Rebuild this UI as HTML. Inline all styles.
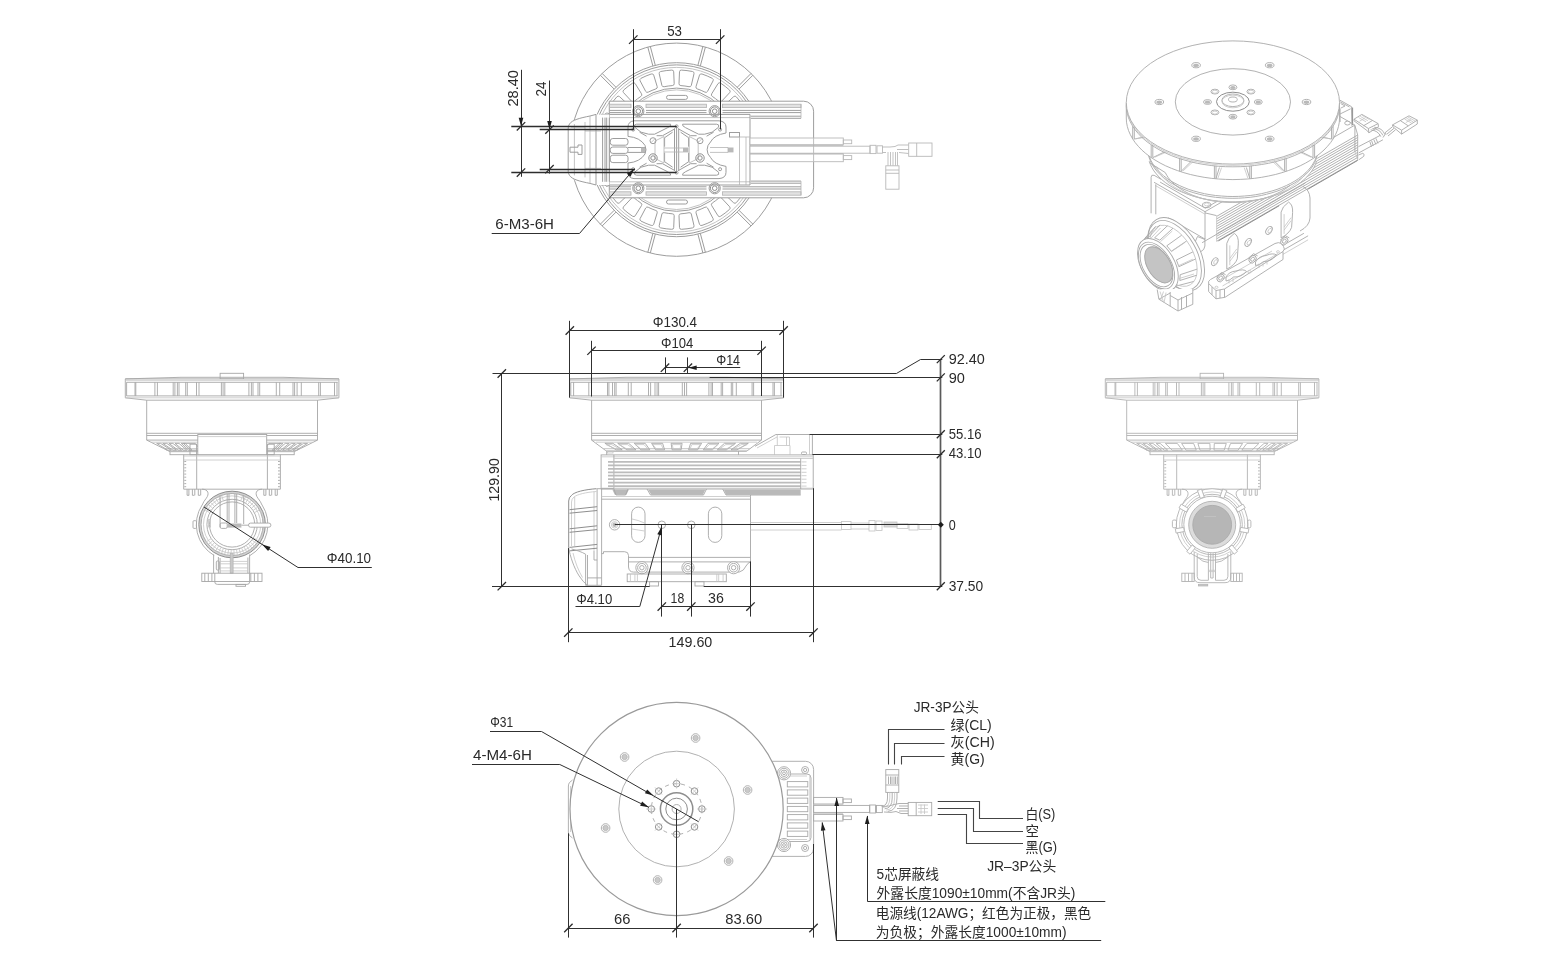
<!DOCTYPE html>
<html lang="zh"><head><meta charset="utf-8"><title>Dimensions</title>
<style>
html,body{margin:0;padding:0;background:#fff}
svg{display:block;will-change:transform;opacity:.999}
.g{fill:none;stroke:#b2b2b2;stroke-width:.9}
.gl{fill:none;stroke:#c4c4c4;stroke-width:.8}
.gd{fill:none;stroke:#8e8e8e;stroke-width:1}
.gw{fill:#fff;stroke:#b2b2b2;stroke-width:.9}
.gf{fill:#c9c9c9;stroke:#b2b2b2;stroke-width:.7}
.gff{fill:#b9b9b9;stroke:none}
.gh{fill:#e2e2e2;stroke:#b2b2b2;stroke-width:.8}
.w{fill:#fff;stroke:none}
#topview .g,#topview .gw{stroke:#9d9d9d;stroke-width:1}
#topview .gl{stroke:#b4b4b4}
#iso .g,#iso .gw{stroke:#a9a9a9}
#bottomview .g,#bottomview .gw{stroke:#a8a8a8}
#leftview .g,#leftview .gw,#frontview .g,#frontview .gw{stroke:#a6a6a6}
#topview .cab .g,#topview .cab .gw{stroke:#b8b8b8;stroke-width:.9}
.k{fill:none;stroke:#303030;stroke-width:1}
.k2{fill:none;stroke:#2d2d2d;stroke-width:1.4}
.kv{fill:none;stroke:#5a5a5a;stroke-width:1.7}
.kd{fill:none;stroke:#444;stroke-width:1.1}
.kt{fill:none;stroke:#2a2a2a;stroke-width:1.3}
.kf{fill:#1e1e1e;stroke:none}
.t{fill:#2a2a2a;font-family:"Liberation Sans","Noto Sans CJK SC",sans-serif}
</style></head><body>
<svg width="1563" height="974" viewBox="0 0 1563 974">
<rect width="1563" height="974" fill="#fff"/>
<g id="topview">
<circle class="g" cx="676.6" cy="149.7" r="106.6"/>
<circle class="g" cx="676.6" cy="149.7" r="87.0"/>
<circle class="g" cx="676.6" cy="149.7" r="84.8"/>
<circle class="gl" cx="676.6" cy="149.7" r="82.3"/>
<circle class="g" cx="676.6" cy="149.7" r="61.6"/>
<circle class="gl" cx="676.6" cy="149.7" r="59.8"/>
<path class="g" d="M697.9 65.3L702.9 46.4"/>
<path class="g" d="M700.3 66.0L705.4 47.1"/>
<path class="g" d="M737.2 87.3L751.1 73.4"/>
<path class="g" d="M739.0 89.1L752.9 75.2"/>
<path class="g" d="M760.3 126.0L779.2 120.9"/>
<path class="g" d="M761.0 128.4L779.9 123.4"/>
<path class="g" d="M761.0 171.0L779.9 176.0"/>
<path class="g" d="M760.3 173.4L779.2 178.5"/>
<path class="g" d="M739.0 210.3L752.9 224.2"/>
<path class="g" d="M737.2 212.1L751.1 226.0"/>
<path class="g" d="M700.3 233.4L705.4 252.3"/>
<path class="g" d="M697.9 234.1L702.9 253.0"/>
<path class="g" d="M655.3 234.1L650.3 253.0"/>
<path class="g" d="M652.9 233.4L647.8 252.3"/>
<path class="g" d="M616.0 212.1L602.1 226.0"/>
<path class="g" d="M614.2 210.3L600.3 224.2"/>
<path class="g" d="M592.9 173.4L574.0 178.5"/>
<path class="g" d="M592.2 171.0L573.3 176.0"/>
<path class="g" d="M592.2 128.4L573.3 123.4"/>
<path class="g" d="M592.9 126.0L574.0 120.9"/>
<path class="g" d="M614.2 89.1L600.3 75.2"/>
<path class="g" d="M616.0 87.3L602.1 73.4"/>
<path class="g" d="M652.9 66.0L647.8 47.1"/>
<path class="g" d="M655.3 65.3L650.3 46.4"/>
<path class="g" d="M681.5 70.1A79.8 79.8 0 0 1 692.5 71.5Q694.4 71.9 694.0 73.7L691.3 85.4Q690.9 87.1 689.0 86.7A64.2 64.2 0 0 0 680.9 85.6Q679.0 85.5 679.0 83.7L679.5 71.8Q679.5 70.0 681.5 70.1Z"/>
<path class="g" d="M702.0 74.0A79.8 79.8 0 0 1 712.2 78.3Q713.9 79.2 713.1 80.8L707.5 91.4Q706.6 93.0 704.9 92.1A64.2 64.2 0 0 0 697.3 88.9Q695.5 88.3 696.0 86.6L699.5 75.1Q700.1 73.4 702.0 74.0Z"/>
<path class="g" d="M720.7 83.2A79.8 79.8 0 0 1 729.4 89.9Q730.9 91.2 729.7 92.6L721.5 101.4Q720.3 102.7 718.9 101.4A64.2 64.2 0 0 0 712.3 96.4Q710.7 95.3 711.7 93.8L718.0 83.6Q719.0 82.1 720.7 83.2Z"/>
<path class="g" d="M736.4 96.9A79.8 79.8 0 0 1 743.1 105.6Q744.2 107.3 742.7 108.3L732.5 114.6Q731.0 115.6 729.9 114.0A64.2 64.2 0 0 0 724.9 107.4Q723.6 106.0 724.9 104.8L733.7 96.6Q735.1 95.4 736.4 96.9Z"/>
<path class="g" d="M748.0 114.1A79.8 79.8 0 0 1 752.3 124.3Q752.9 126.2 751.2 126.8L739.7 130.3Q738.0 130.8 737.4 129.0A64.2 64.2 0 0 0 734.2 121.4Q733.3 119.7 734.9 118.8L745.5 113.2Q747.1 112.4 748.0 114.1Z"/>
<path class="g" d="M754.8 133.8A79.8 79.8 0 0 1 756.2 144.8Q756.3 146.8 754.5 146.8L742.6 147.3Q740.8 147.3 740.7 145.4A64.2 64.2 0 0 0 739.6 137.3Q739.2 135.4 740.9 135.0L752.6 132.3Q754.4 131.9 754.8 133.8Z"/>
<path class="g" d="M756.2 154.6A79.8 79.8 0 0 1 754.8 165.6Q754.4 167.5 752.6 167.1L740.9 164.4Q739.2 164.0 739.6 162.1A64.2 64.2 0 0 0 740.7 154.0Q740.8 152.1 742.6 152.1L754.5 152.6Q756.3 152.6 756.2 154.6Z"/>
<path class="g" d="M752.3 175.1A79.8 79.8 0 0 1 748.0 185.3Q747.1 187.0 745.5 186.2L734.9 180.6Q733.3 179.7 734.2 178.0A64.2 64.2 0 0 0 737.4 170.4Q738.0 168.6 739.7 169.1L751.2 172.6Q752.9 173.2 752.3 175.1Z"/>
<path class="g" d="M743.1 193.8A79.8 79.8 0 0 1 736.4 202.5Q735.1 204.0 733.7 202.8L724.9 194.6Q723.6 193.4 724.9 192.0A64.2 64.2 0 0 0 729.9 185.4Q731.0 183.8 732.5 184.8L742.7 191.1Q744.2 192.1 743.1 193.8Z"/>
<path class="g" d="M729.4 209.5A79.8 79.8 0 0 1 720.7 216.2Q719.0 217.3 718.0 215.8L711.7 205.6Q710.7 204.1 712.3 203.0A64.2 64.2 0 0 0 718.9 198.0Q720.3 196.7 721.5 198.0L729.7 206.8Q730.9 208.2 729.4 209.5Z"/>
<path class="g" d="M712.2 221.1A79.8 79.8 0 0 1 702.0 225.4Q700.1 226.0 699.5 224.3L696.0 212.8Q695.5 211.1 697.3 210.5A64.2 64.2 0 0 0 704.9 207.3Q706.6 206.4 707.5 208.0L713.1 218.6Q713.9 220.2 712.2 221.1Z"/>
<path class="g" d="M692.5 227.9A79.8 79.8 0 0 1 681.5 229.3Q679.5 229.4 679.5 227.6L679.0 215.7Q679.0 213.9 680.9 213.8A64.2 64.2 0 0 0 689.0 212.7Q690.9 212.3 691.3 214.0L694.0 225.7Q694.4 227.5 692.5 227.9Z"/>
<path class="g" d="M671.7 229.3A79.8 79.8 0 0 1 660.7 227.9Q658.8 227.5 659.2 225.7L661.9 214.0Q662.3 212.3 664.2 212.7A64.2 64.2 0 0 0 672.3 213.8Q674.2 213.9 674.2 215.7L673.7 227.6Q673.7 229.4 671.7 229.3Z"/>
<path class="g" d="M651.2 225.4A79.8 79.8 0 0 1 641.0 221.1Q639.3 220.2 640.1 218.6L645.7 208.0Q646.6 206.4 648.3 207.3A64.2 64.2 0 0 0 655.9 210.5Q657.7 211.1 657.2 212.8L653.7 224.3Q653.1 226.0 651.2 225.4Z"/>
<path class="g" d="M632.5 216.2A79.8 79.8 0 0 1 623.8 209.5Q622.3 208.2 623.5 206.8L631.7 198.0Q632.9 196.7 634.3 198.0A64.2 64.2 0 0 0 640.9 203.0Q642.5 204.1 641.5 205.6L635.2 215.8Q634.2 217.3 632.5 216.2Z"/>
<path class="g" d="M616.8 202.5A79.8 79.8 0 0 1 610.1 193.8Q609.0 192.1 610.5 191.1L620.7 184.8Q622.2 183.8 623.3 185.4A64.2 64.2 0 0 0 628.3 192.0Q629.6 193.4 628.3 194.6L619.5 202.8Q618.1 204.0 616.8 202.5Z"/>
<path class="g" d="M605.2 185.3A79.8 79.8 0 0 1 600.9 175.1Q600.3 173.2 602.0 172.6L613.5 169.1Q615.2 168.6 615.8 170.4A64.2 64.2 0 0 0 619.0 178.0Q619.9 179.7 618.3 180.6L607.7 186.2Q606.1 187.0 605.2 185.3Z"/>
<path class="g" d="M598.4 165.6A79.8 79.8 0 0 1 597.0 154.6Q596.9 152.6 598.7 152.6L610.6 152.1Q612.4 152.1 612.5 154.0A64.2 64.2 0 0 0 613.6 162.1Q614.0 164.0 612.3 164.4L600.6 167.1Q598.8 167.5 598.4 165.6Z"/>
<path class="g" d="M597.0 144.8A79.8 79.8 0 0 1 598.4 133.8Q598.8 131.9 600.6 132.3L612.3 135.0Q614.0 135.4 613.6 137.3A64.2 64.2 0 0 0 612.5 145.4Q612.4 147.3 610.6 147.3L598.7 146.8Q596.9 146.8 597.0 144.8Z"/>
<path class="g" d="M600.9 124.3A79.8 79.8 0 0 1 605.2 114.1Q606.1 112.4 607.7 113.2L618.3 118.8Q619.9 119.7 619.0 121.4A64.2 64.2 0 0 0 615.8 129.0Q615.2 130.8 613.5 130.3L602.0 126.8Q600.3 126.2 600.9 124.3Z"/>
<path class="g" d="M610.1 105.6A79.8 79.8 0 0 1 616.8 96.9Q618.1 95.4 619.5 96.6L628.3 104.8Q629.6 106.0 628.3 107.4A64.2 64.2 0 0 0 623.3 114.0Q622.2 115.6 620.7 114.6L610.5 108.3Q609.0 107.3 610.1 105.6Z"/>
<path class="g" d="M623.8 89.9A79.8 79.8 0 0 1 632.5 83.2Q634.2 82.1 635.2 83.6L641.5 93.8Q642.5 95.3 640.9 96.4A64.2 64.2 0 0 0 634.3 101.4Q632.9 102.7 631.7 101.4L623.5 92.6Q622.3 91.2 623.8 89.9Z"/>
<path class="g" d="M641.0 78.3A79.8 79.8 0 0 1 651.2 74.0Q653.1 73.4 653.7 75.1L657.2 86.6Q657.7 88.3 655.9 88.9A64.2 64.2 0 0 0 648.3 92.1Q646.6 93.0 645.7 91.4L640.1 80.8Q639.3 79.2 641.0 78.3Z"/>
<path class="g" d="M660.7 71.5A79.8 79.8 0 0 1 671.7 70.1Q673.7 70.0 673.7 71.8L674.2 83.7Q674.2 85.5 672.3 85.6A64.2 64.2 0 0 0 664.2 86.7Q662.3 87.1 661.9 85.4L659.2 73.7Q658.8 71.9 660.7 71.5Z"/>
<rect class="g" x="666.5" y="95.4" width="21.0" height="4.0" rx="2"/>
<rect class="g" x="666.5" y="200.0" width="21.0" height="4.0" rx="2"/>
<path class="gw" d="M609.3 101.2H803.6A10 10 0 0 1 813.6 111.2V187.8A10 10 0 0 1 803.6 197.8H609.3Z"/>
<rect class="gh" x="609.6" y="104.2" width="21.4" height="3.4"/>
<rect class="gh" x="646.0" y="104.2" width="60.5" height="3.4"/>
<rect class="gh" x="722.5" y="104.2" width="78.5" height="3.4"/>
<path class="g" d="M609.6 110.4L631.0 110.4"/>
<path class="g" d="M609.6 112.6L631.0 112.6"/>
<path class="g" d="M646.0 110.4L706.5 110.4"/>
<path class="g" d="M646.0 112.6L706.5 112.6"/>
<path class="g" d="M722.5 110.4L801.0 110.4"/>
<path class="g" d="M722.5 112.6L801.0 112.6"/>
<path class="g" d="M750.8 116.2L801.0 116.2"/>
<path class="g" d="M750.8 118.3L801.0 118.3"/>
<path class="gl" d="M801.0 104.2L801.0 118.3"/>
<circle class="gw" cx="638.3" cy="111.2" r="5.6"/>
<circle class="gd" cx="638.3" cy="111.2" r="4.3"/>
<circle class="gd" cx="638.3" cy="111.2" r="2.3"/>
<circle class="gw" cx="714.7" cy="111.2" r="5.6"/>
<circle class="gd" cx="714.7" cy="111.2" r="4.3"/>
<circle class="gd" cx="714.7" cy="111.2" r="2.3"/>
<path class="g" d="M601.0 114.4L750.0 114.4"/>
<path class="gl" d="M601.0 117.6L750.0 117.6"/>
<rect class="gh" x="609.6" y="191.8" width="21.4" height="3.4"/>
<rect class="gh" x="646.0" y="191.8" width="60.5" height="3.4"/>
<rect class="gh" x="722.5" y="191.8" width="78.5" height="3.4"/>
<path class="g" d="M609.6 189.0L631.0 189.0"/>
<path class="g" d="M609.6 186.8L631.0 186.8"/>
<path class="g" d="M646.0 189.0L706.5 189.0"/>
<path class="g" d="M646.0 186.8L706.5 186.8"/>
<path class="g" d="M722.5 189.0L801.0 189.0"/>
<path class="g" d="M722.5 186.8L801.0 186.8"/>
<path class="g" d="M750.8 183.2L801.0 183.2"/>
<path class="g" d="M750.8 181.1L801.0 181.1"/>
<path class="gl" d="M801.0 195.2L801.0 181.1"/>
<circle class="gw" cx="638.3" cy="188.2" r="5.6"/>
<circle class="gd" cx="638.3" cy="188.2" r="4.3"/>
<circle class="gd" cx="638.3" cy="188.2" r="2.3"/>
<circle class="gw" cx="714.7" cy="188.2" r="5.6"/>
<circle class="gd" cx="714.7" cy="188.2" r="4.3"/>
<circle class="gd" cx="714.7" cy="188.2" r="2.3"/>
<path class="g" d="M601.0 185.0L750.0 185.0"/>
<path class="gl" d="M601.0 181.8L750.0 181.8"/>
<path class="g" d="M750.0 114.4L750.0 185.0"/>
<path class="g" d="M601.0 114.4L601.0 185.0"/>
<path class="w" d="M609.3 114.4H596L590 116C580 118 572 120 569.5 124Q568.2 126 568.2 128V171.4Q568.2 173.4 569.5 175.4C572 179.4 580 181.4 590 183.4L596 185H609.3Z"/>
<path class="gw" d="M596 114.4V185M596 114.4L590 116C580 118 572 120 569.5 124Q568.2 126 568.2 128V171.4Q568.2 173.4 569.5 175.4C572 179.4 580 181.4 590 183.4L596 185"/>
<path class="gl" d="M574.4 124V175.4M585 122V177.4M590 116V183.4"/>
<path class="gl" d="M571 127H585M571 172.4H585M585 131H601M585 168.4H601"/>
<path class="g" d="M570 147.2H578V145H582V154.4H578V152.2H570Z"/>
<path class="g" d="M602.6 117.6V181.8M605 117.6V181.8M606.7 117.6V181.8M609.3 117.6V181.8"/>
<rect class="g" x="610.3" y="138.5" width="17.7" height="6.7" rx="2.5"/>
<rect class="g" x="610.3" y="147.0" width="17.7" height="6.4" rx="2.5"/>
<rect class="g" x="610.3" y="155.2" width="17.7" height="7.4" rx="2.5"/>
<path class="g" d="M628 147.5H645V152.4H628"/>
<rect class="gff" x="641.0" y="147.5" width="4.5" height="4.9"/>
<path class="g" d="M634 120.8H719Q726 121.5 726 127V133Q714 135 710.5 142A10.5 10.5 0 0 0 710.5 157.4Q714 164.4 726 166.4V172.4Q726 178 719 178.6H634Q628 178 628 172.4V163Q640 162 645 154A10.3 10.3 0 0 0 645 145.4Q640 137.4 628 136.4V127Q628 121.5 634 120.8Z"/>
<path class="g" d="M676.6 126.3V172.6M674.5 128.5V170.8M678.7 128.5V170.8"/>
<path class="g" d="M675.1 128.7L662.6 135.7L656.6 135.7"/>
<path class="g" d="M672.6 132.2L664.6 137.7L664.6 146.7"/>
<path class="g" d="M646.6 136.2L639.6 132.2"/>
<path class="g" d="M670.6 124.2H636.6Q633.6 124.2 634.6 127.2Q640.6 133.7 648.6 134.2H654.6L667.6 127.7Q671.6 125.7 670.6 124.2Z"/>
<path class="g" d="M675.1 170.7L662.6 163.7L656.6 163.7"/>
<path class="g" d="M672.6 167.2L664.6 161.7L664.6 152.7"/>
<path class="g" d="M646.6 163.2L639.6 167.2"/>
<path class="g" d="M670.6 175.2H636.6Q633.6 175.2 634.6 172.2Q640.6 165.7 648.6 165.2H654.6L667.6 171.7Q671.6 173.7 670.6 175.2Z"/>
<path class="g" d="M678.1 128.7L690.6 135.7L696.6 135.7"/>
<path class="g" d="M680.6 132.2L688.6 137.7L688.6 146.7"/>
<path class="g" d="M706.6 136.2L713.6 132.2"/>
<path class="g" d="M682.6 124.2H716.6Q719.6 124.2 718.6 127.2Q712.6 133.7 704.6 134.2H698.6L685.6 127.7Q681.6 125.7 682.6 124.2Z"/>
<path class="g" d="M678.1 170.7L690.6 163.7L696.6 163.7"/>
<path class="g" d="M680.6 167.2L688.6 161.7L688.6 152.7"/>
<path class="g" d="M706.6 163.2L713.6 167.2"/>
<path class="g" d="M682.6 175.2H716.6Q719.6 175.2 718.6 172.2Q712.6 165.7 704.6 165.2H698.6L685.6 171.7Q681.6 173.7 682.6 175.2Z"/>
<path class="gl" d="M655 141L664 136.5V163L655 158.5ZM698.2 141L689.2 136.5V163L698.2 158.5Z"/>
<circle class="gd" cx="653.0" cy="158.0" r="4.2"/>
<circle class="gd" cx="653.0" cy="158.0" r="2.2"/>
<circle class="g" cx="653.0" cy="140.7" r="3.0"/>
<path class="gl" d="M651.0 142.7L655.0 138.7"/>
<circle class="gd" cx="700.0" cy="158.0" r="4.2"/>
<circle class="gd" cx="700.0" cy="158.0" r="2.2"/>
<circle class="g" cx="700.0" cy="140.7" r="3.0"/>
<path class="gl" d="M698.0 142.7L702.0 138.7"/>
<circle class="g" cx="676.6" cy="126.3" r="1.5"/>
<circle class="g" cx="676.6" cy="172.6" r="1.5"/>
<circle class="g" cx="720.1" cy="129.6" r="1.5"/>
<circle class="g" cx="720.1" cy="169.2" r="1.5"/>
<circle class="g" cx="633.2" cy="129.6" r="1.5"/>
<circle class="g" cx="633.2" cy="169.2" r="1.5"/>
<rect class="gff" x="683.0" y="147.5" width="5.5" height="4.9"/>
<rect class="gff" x="728.0" y="147.5" width="5.5" height="4.9"/>
<path class="gl" d="M664 148H683M664 152H683M710 147.5H728V152.4H710"/>
<rect class="g" x="729.5" y="132.5" width="10.0" height="4.5"/>
<path class="gl" d="M739.5 137V185M746 137V185M739.5 137H750"/>
<g class="cab">
<rect class="gw" x="750.0" y="138.0" width="93.3" height="6.7"/>
<rect class="g" x="843.3" y="140.0" width="8.4" height="3.7"/>
<rect class="gw" x="750.0" y="153.7" width="93.3" height="8.0"/>
<rect class="g" x="843.3" y="155.6" width="8.4" height="4.0"/>
<rect class="gw" x="750.0" y="146.2" width="120.0" height="7.0"/>
<path class="gl" d="M750.0 145.4L843.3 145.4"/>
<path class="gl" d="M750.0 154.0L843.3 154.0"/>
<path class="g" d="M813.6 138.0L813.6 161.7"/>
<rect class="g" x="870.0" y="145.3" width="6.0" height="8.3"/>
<rect class="g" x="877.0" y="145.8" width="5.5" height="7.4"/>
<path class="g" d="M882.5 147H890Q896 147 898 145L908.7 145M882.5 152.5H886M899 152.5L908.7 153.5M897 149.5H908.7"/>
<rect class="gw" x="908.7" y="143.0" width="23.3" height="13.3"/>
<path class="g" d="M916.7 143.0L916.7 156.3"/>
<path class="gl" d="M888 152V165.8M890.5 152V165.8M893 152V165.8M895.5 152V165.8M897.5 152V165.8"/>
<rect class="gw" x="885.8" y="165.8" width="13.2" height="23.4"/>
<path class="g" d="M885.8 170.0L899.0 170.0"/>
<path class="g" d="M885.8 173.3L899.0 173.3"/>
</g>
</g>
<g id="iso">
<path class="g" d="M1358.4 146.7L1380.2 135.4M1358.8 152.9L1382.9 139.8M1369.8 141.5L1371.5 146.7M1371.6 140.6L1373.3 145.8M1373.7 139.3L1375.9 144.5M1375.8 138.2L1378 143.4"/>
<path class="g" d="M1358.4 155L1362.8 153.3Q1365 154 1363.7 156.4L1358.8 159.8"/>
<path class="gw" d="M1354.0 119.2L1361.9 114.4L1378.1 123.6L1368.4 128.5Z"/>
<path class="g" d="M1354 119.2V120.8L1367.6 131L1368.9 132.8L1378.5 126.7L1378.1 123.6M1368.4 128.5L1368.9 132.8M1363.5 125.8L1372.4 120.5"/>
<path class="gl" d="M1358.5 117.5L1366 121.8M1360.3 116.4L1367.8 120.7M1362 115.3L1369.5 119.6M1359.6 121.2L1364.6 118.2"/>
<path class="g" d="M1372.4 128.4Q1380 129 1382.9 135.4M1374.2 127.2Q1382.5 128 1384.8 134.4M1370.6 129.8Q1378 130.5 1380.8 136.6"/>
<path class="gw" d="M1392.5 124.9L1409.0 115.8L1417.3 120.1L1401.6 130.2Z"/>
<path class="g" d="M1392.5 124.9L1392.9 126.7L1401.6 134.1V130.2M1401.6 134.1L1417.3 124V120.1M1400.3 120.6L1408.2 125.8"/>
<path class="gl" d="M1404.5 119L1411.5 123M1406.3 118L1413.3 122M1408 117L1415 121M1405.8 122.6L1410.8 119.6"/>
<path class="g" d="M1392.5 126.7L1385 132.8M1394 128.3L1386.6 134.4M1395.5 129.8L1388 136M1386 133L1383 137.5"/>
<path class="g" d="M1339.6 100L1351.4 106.6L1351.9 125.8M1340.1 108.8V122M1340.1 114L1350.6 108.8M1340.1 101.8L1349.5 107M1340.6 103.5L1345 106L1340.6 108.2"/>
<path class="gd" d="M1352.6 107.5V125"/>
<path class="gw" d="M1154.1 182.3L1205.0 211.7L1205.0 239.1L1168.2 217.8"/>
<path class="g" d="M1205.0 211.7L1354.9 125.1"/>
<path class="g" d="M1160.1 182.1L1205.3 208.2L1241.4 187.4"/>
<path class="gl" d="M1155.5 185.6L1205.0 214.2"/>
<path class="g" d="M1151.1 213.3V177.3Q1151.1 174.3 1154.1 175.3L1161.1 179.3"/>
<path class="g" d="M1155.8 184.3V214.3"/>
<ellipse class="g" cx="1206.7" cy="205.0" rx="4.2" ry="2.7"/>
<ellipse class="gl" cx="1206.7" cy="204.4" rx="2.4" ry="1.5"/>
<path class="w" d="M1216.6 215.6L1357.7 134.1L1357.7 159.9L1216.6 241.3Z"/>
<path class="g" d="M1205.0 212.9L1216.6 215.6"/>
<path class="g" d="M1216.6 216.4L1357.7 135.0"/>
<path class="g" d="M1216.6 218.9L1357.7 137.5"/>
<path class="g" d="M1216.6 221.4L1357.7 139.9"/>
<path class="g" d="M1216.6 223.9L1357.7 142.4"/>
<path class="g" d="M1216.6 226.4L1357.7 144.9"/>
<path class="g" d="M1216.6 228.8L1357.7 147.4"/>
<path class="g" d="M1216.6 231.3L1357.7 149.9"/>
<path class="g" d="M1216.6 233.8L1357.7 152.4"/>
<path class="g" d="M1216.6 236.3L1357.7 154.9"/>
<path class="g" d="M1216.6 238.8L1357.7 157.4"/>
<path class="g" d="M1216.6 241.3L1357.7 159.9"/>
<path class="gl" d="M1216.6 216.4L1216.6 241.3"/>
<path class="gd" d="M1218.4 240.9L1279.2 205.7"/>
<path class="gd" d="M1307.5 189.4L1357.7 160.4"/>
<path class="g" d="M1357.7 135.0L1356.3 130.1L1354.9 125.9"/>
<path class="g" d="M1357.7 135.0L1357.7 159.9"/>
<path class="gl" d="M1357.7 159.9L1354.9 151.7"/>
<path class="g" d="M1354.9 125.1L1354.9 151.7"/>
<path class="g" d="M1354.9 125.1L1321.0 105.5"/>
<ellipse class="gw" cx="1347.5" cy="123.1" rx="2.8" ry="1.9"/>
<path class="g" d="M1202.1 242.7L1305.3 183.1"/>
<path class="g" d="M1303.9 233.3L1237.4 271.7"/>
<path class="g" d="M1303 186.5Q1309.5 190 1310 198V218Q1309.5 226 1300 231"/>
<ellipse class="g" rx="4.3" ry="2.7" transform="translate(1214.8 261.7) rotate(-58)"/>
<ellipse class="gl" rx="2.6" ry="1.5" transform="translate(1215.6 262.0) rotate(-58)"/>
<ellipse class="g" rx="4.3" ry="2.7" transform="translate(1248.2 242.4) rotate(-58)"/>
<ellipse class="gl" rx="2.6" ry="1.5" transform="translate(1249.0 242.7) rotate(-58)"/>
<ellipse class="g" rx="4.3" ry="2.7" transform="translate(1269.0 230.4) rotate(-58)"/>
<ellipse class="gl" rx="2.6" ry="1.5" transform="translate(1269.8 230.7) rotate(-58)"/>
<path class="gw" d="M1226.8 269.2L1226.8 243.4Q1227.8 237.9 1234.3 233.4Q1238.8 235.9 1238.3 243.9L1237.3 258.8Q1235.3 264.8 1226.8 269.2"/>
<path class="gl" d="M1229.8 258.4L1236.8 248.9M1229.8 261.4L1236.8 251.9M1229.8 245.4V265.2"/>
<path class="gw" d="M1281.1 237.9L1281.1 212.1Q1282.1 206.6 1288.6 202.1Q1293.1 204.6 1292.6 212.6L1291.6 227.4Q1289.6 233.4 1281.1 237.9"/>
<path class="gl" d="M1284.1 227.1L1291.1 217.6M1284.1 230.1L1291.1 220.6M1284.1 214.1V233.9"/>
<path class="g" d="M1204.9 238.5V246Q1204.5 250 1201 251.5M1197.5 236.5L1204.9 239.5M1197.5 236.5L1195.5 241"/>
<path class="gl" d="M1237.4 271.7L1237.4 279.8"/>
<path class="g" d="M1228.9 281.5L1308.1 235.8"/>
<path class="gl" d="M1228.9 285.6L1308.1 239.8"/>
<path class="gw" d="M1208.6 283.5Q1207.8 281 1210.5 279.5L1275 243.5Q1278.5 241.8 1281.5 243.5L1283.5 246.5Q1285.5 249 1283 251.5V259.5L1225 297.3L1216 298.8L1208.6 291.5Z"/>
<path class="g" d="M1208.6 283.5L1216 290.5L1224.5 289L1283 251.5M1216 290.5V298.8M1224.5 289V297.3M1212 287V294.8M1220 290V298"/>
<path class="gl" d="M1219 281.5L1272 251M1222.5 286L1278 253.5"/>
<path class="g" d="M1226 277Q1229 271.5 1236 271Q1244 268.5 1246.5 271.5Q1241 277.5 1233.5 277Q1229.5 281 1226 281Z"/>
<path class="g" d="M1255.5 262Q1259 256 1266 255.5Q1273 252.5 1276.5 255Q1271 262 1263.5 261.5Q1259.5 265.5 1255.5 265.5Z"/>
<path class="gl" d="M1229 279V283.5M1233 277.5V282M1259 263.5V268M1263 262V266.5M1267 260V264.5"/>
<ellipse class="gl" cx="1249.5" cy="271.8" rx="1.8" ry="1.2"/>
<ellipse class="gl" cx="1216.5" cy="287.3" rx="1.5" ry="1.1"/>
<ellipse class="gl" cx="1278.0" cy="251.8" rx="1.5" ry="1.1"/>
<path class="g" d="M1216.4 277.0L1221.6 272.5L1225.6 274.7"/>
<ellipse class="gw" rx="4.2" ry="3.1" transform="translate(1220.6 278.0) rotate(-50)"/>
<ellipse class="g" rx="2.3" ry="1.6" transform="translate(1220.6 278.0) rotate(-50)"/>
<path class="g" d="M1248.4 258.2L1253.6 253.7L1257.6 255.9"/>
<ellipse class="gw" rx="4.2" ry="3.1" transform="translate(1252.6 259.2) rotate(-50)"/>
<ellipse class="g" rx="2.3" ry="1.6" transform="translate(1252.6 259.2) rotate(-50)"/>
<path class="g" d="M1280.1 240.2L1285.3 235.7L1289.3 237.9"/>
<ellipse class="gw" rx="4.2" ry="3.1" transform="translate(1284.3 241.2) rotate(-50)"/>
<ellipse class="g" rx="2.3" ry="1.6" transform="translate(1284.3 241.2) rotate(-50)"/>
<ellipse class="gw" rx="40.0" ry="23.1" transform="translate(1176.3 254.2) rotate(60)"/>
<ellipse class="g" rx="38.0" ry="21.9" transform="translate(1174.6 255.2) rotate(60)"/>
<path class="g" d="M1153.0 230.3L1141.2 242.7"/>
<path class="g" d="M1194.0 281.4L1176.1 286.1"/>
<ellipse class="gl" rx="33.5" ry="19.3" transform="translate(1173.5 255.8) rotate(60)"/>
<path class="g" d="M1160.1 224.9L1148.7 237.1"/>
<path class="g" d="M1155.7 226.3L1144.6 238.5"/>
<path class="g" d="M1148.7 237.1L1144.6 238.5"/>
<path class="gl" d="M1160.5 228.0L1150.2 239.0"/>
<path class="g" d="M1173.0 228.2L1159.8 240.2"/>
<path class="g" d="M1167.5 225.7L1154.6 237.8"/>
<path class="g" d="M1159.8 240.2L1154.6 237.8"/>
<path class="gl" d="M1172.3 231.0L1160.4 241.7"/>
<path class="g" d="M1186.6 241.0L1171.4 251.2"/>
<path class="g" d="M1181.7 235.2L1166.8 245.8"/>
<path class="g" d="M1171.4 251.3L1166.8 245.8"/>
<path class="gl" d="M1184.7 242.7L1171.0 251.9"/>
<path class="g" d="M1195.5 259.0L1178.9 266.7"/>
<path class="g" d="M1192.9 251.9L1176.4 260.0"/>
<path class="g" d="M1178.9 266.7L1176.4 260.0"/>
<path class="gl" d="M1192.8 259.2L1177.9 266.0"/>
<path class="g" d="M1196.8 275.2L1179.8 280.5"/>
<path class="g" d="M1197.2 269.1L1180.2 274.7"/>
<path class="g" d="M1179.8 280.5L1180.2 274.7"/>
<path class="gl" d="M1194.0 274.0L1178.8 278.6"/>
<ellipse class="gw" rx="28.8" ry="16.6" transform="translate(1157.9 264.8) rotate(60)"/>
<ellipse class="gw" rx="25.6" ry="14.8" transform="translate(1156.5 265.6) rotate(60)"/>
<ellipse class="g" rx="23.2" ry="13.4" transform="translate(1156.5 265.6) rotate(60)"/>
<ellipse rx="19.8" ry="11.4" transform="translate(1158.7 264.8) rotate(60)" style="fill:#c4c4c4;stroke:#a6a6a6;stroke-width:.9"/>
<path class="gw" d="M1157.2 289.5L1158.9 299.2L1178 311L1192.8 304.3V288.5"/>
<path class="g" d="M1170.2 292V306.3M1181.5 297V309.3M1186.5 295.5V307M1158.9 299.2L1170.2 293M1178 311V300L1170.2 295.5M1178 300L1192.8 293"/>
<path class="gl" d="M1160 291.5L1163.5 302M1163.5 291.5L1160.5 300.5M1166 292.5L1164 303"/>
<path class="w" d="M1317.9 119.6L1317.4 124.8L1316.0 129.9L1313.7 134.8L1310.6 139.6L1306.5 144.2L1301.7 148.5L1296.1 152.5L1289.8 156.1L1282.9 159.4L1275.4 162.2L1267.5 164.5L1259.2 166.3L1250.6 167.7L1241.8 168.5L1232.9 168.7L1224.0 168.5L1215.2 167.7L1206.6 166.3L1198.3 164.5L1190.4 162.2L1182.9 159.4L1176.0 156.1L1169.7 152.5L1164.1 148.5L1159.3 144.2L1155.2 139.6L1152.1 134.8L1149.8 129.9L1148.4 124.8L1147.9 119.6L1147.9 152.7L1148.4 157.8L1149.8 162.9L1152.1 167.9L1155.2 172.7L1159.3 177.3L1164.1 181.6L1169.7 185.6L1176.0 189.2L1182.9 192.4L1190.4 195.2L1198.3 197.6L1206.6 199.4L1215.2 200.7L1224.0 201.5L1232.9 201.8L1241.8 201.5L1250.6 200.7L1259.2 199.4L1267.5 197.6L1275.4 195.2L1282.9 192.4L1289.8 189.2L1296.1 185.6L1301.7 181.6L1306.5 177.3L1310.6 172.7L1313.7 167.9L1316.0 162.9L1317.4 157.8L1317.9 152.7Z"/>
<path class="w" d="M1149.8 162.9L1152.1 167.9L1155.2 172.7L1159.3 177.3L1164.1 181.6L1169.7 185.6L1176.0 189.2L1182.9 192.4L1190.4 195.2L1198.3 197.6L1206.6 199.4L1215.2 200.7L1224.0 201.5L1232.9 201.8L1241.8 201.5L1250.6 200.7L1259.2 199.4L1267.5 197.6L1275.4 195.2L1282.9 192.4L1289.8 189.2L1296.1 185.6L1301.7 181.6L1306.5 177.3L1310.6 172.7L1313.7 167.9L1316.0 162.9L1301.4 170.5L1299.5 174.6L1296.8 178.5L1293.5 182.3L1289.5 185.9L1284.9 189.1L1279.7 192.1L1274.0 194.8L1267.9 197.1L1261.4 199.0L1254.5 200.5L1247.5 201.6L1240.2 202.3L1232.9 202.5L1225.6 202.3L1218.3 201.6L1211.3 200.5L1204.4 199.0L1197.9 197.1L1191.8 194.8L1186.1 192.1L1180.9 189.1L1176.3 185.9L1172.3 182.3L1169.0 178.5L1166.3 174.6L1164.4 170.5Z"/>
<path class="g" d="M1317.1 154.2L1316.1 157.5L1314.7 160.8L1312.9 164.0L1310.8 167.1L1308.3 170.1L1305.4 173.0L1302.2 175.8L1298.7 178.5L1294.9 181.0L1290.8 183.3L1286.4 185.5L1281.8 187.5L1277.0 189.4L1271.9 191.0L1266.7 192.4L1261.3 193.7L1255.8 194.7L1250.2 195.5L1244.4 196.0L1238.7 196.4L1232.9 196.5L1227.1 196.4L1221.4 196.0L1215.6 195.5L1210.0 194.7L1204.5 193.7L1199.1 192.4L1193.9 191.0L1188.8 189.4L1184.0 187.5L1179.4 185.5L1175.0 183.3L1170.9 181.0L1167.1 178.5L1163.6 175.8L1160.4 173.0L1157.5 170.1L1155.0 167.1L1152.9 164.0L1151.1 160.8L1149.7 157.5L1148.7 154.2"/>
<path class="g" d="M1317.1 156.0L1316.1 159.3L1314.7 162.6L1312.9 165.8L1310.8 168.9L1308.3 171.9L1305.4 174.8L1302.2 177.6L1298.7 180.2L1294.9 182.8L1290.8 185.1L1286.4 187.3L1281.8 189.3L1277.0 191.2L1271.9 192.8L1266.7 194.2L1261.3 195.5L1255.8 196.5L1250.2 197.3L1244.4 197.8L1238.7 198.2L1232.9 198.3L1227.1 198.2L1221.4 197.8L1215.6 197.3L1210.0 196.5L1204.5 195.5L1199.1 194.2L1193.9 192.8L1188.8 191.2L1184.0 189.3L1179.4 187.3L1175.0 185.1L1170.9 182.8L1167.1 180.2L1163.6 177.6L1160.4 174.8L1157.5 171.9L1155.0 168.9L1152.9 165.8L1151.1 162.6L1149.7 159.3L1148.7 156.0"/>
<path class="g" d="M1316.6 161.2L1315.4 164.5L1313.8 167.7L1311.9 170.9L1309.5 173.9L1306.9 176.9L1303.9 179.7L1300.5 182.5L1296.8 185.1L1292.9 187.5L1288.6 189.8L1284.1 191.9L1279.4 193.8L1274.5 195.5L1269.3 197.1L1264.0 198.4L1258.5 199.5L1253.0 200.4L1247.3 201.1L1241.6 201.5L1235.8 201.8L1230.0 201.8L1224.2 201.5L1218.5 201.1L1212.8 200.4L1207.3 199.5L1201.8 198.4L1196.5 197.1L1191.3 195.5L1186.4 193.8L1181.7 191.9L1177.2 189.8L1172.9 187.5L1169.0 185.1L1165.3 182.5L1161.9 179.7L1158.9 176.9L1156.3 173.9L1153.9 170.9L1152.0 167.7L1150.4 164.5L1149.2 161.2"/>
<path class="g" d="M1290.2 185.3L1287.3 187.5L1284.2 189.6L1280.8 191.6L1277.2 193.4L1273.4 195.1L1269.3 196.6L1265.1 198.0L1260.8 199.2L1256.3 200.2L1251.7 201.0L1247.1 201.7L1242.3 202.2L1237.5 202.4L1232.7 202.5L1227.9 202.4L1223.1 202.1L1218.4 201.6L1213.7 201.0L1209.1 200.1L1204.7 199.1L1200.3 197.9L1196.2 196.5L1192.1 195.0L1188.3 193.3L1184.7 191.4L1181.4 189.4L1178.2 187.3L1175.3 185.1L1172.7 182.8L1170.4 180.3L1168.4 177.8L1166.7 175.2L1165.3 172.6"/>
<path class="gl" d="M1306.2 172.6L1304.2 175.4L1301.9 178.2L1299.3 180.9L1296.3 183.4L1293.1 185.8L1289.6 188.1L1285.8 190.3L1281.8 192.3L1277.6 194.1L1273.1 195.8L1268.5 197.3L1263.7 198.6L1258.8 199.7L1253.7 200.6L1248.6 201.3L1243.3 201.8L1238.1 202.1L1232.8 202.2L1227.5 202.1L1222.2 201.8L1217.0 201.3L1211.8 200.6L1206.8 199.6L1201.8 198.5L1197.0 197.2L1192.4 195.7L1188.0 194.0L1183.8 192.2L1179.8 190.2L1176.0 188.0L1172.5 185.7L1169.3 183.3L1166.4 180.7L1163.8 178.1L1161.5 175.3L1159.5 172.5L1157.9 169.5L1156.6 166.6"/>
<path class="g" d="M1149.8 162.9L1165.3 172.6"/>
<path class="w" d="M1126.3 102.5L1126.7 97.1L1127.9 91.8L1129.9 86.6L1132.7 81.4L1136.3 76.5L1140.6 71.7L1145.6 67.2L1151.2 62.9L1157.5 59.0L1164.4 55.3L1171.8 52.1L1179.6 49.2L1187.8 46.7L1196.4 44.7L1205.3 43.0L1214.4 41.9L1223.6 41.2L1232.9 40.9L1242.2 41.2L1251.4 41.9L1260.5 43.0L1269.4 44.7L1278.0 46.7L1286.2 49.2L1294.0 52.1L1301.4 55.3L1308.3 59.0L1314.6 62.9L1320.2 67.2L1325.2 71.7L1329.5 76.5L1333.1 81.4L1335.9 86.6L1337.9 91.8L1339.1 97.1L1339.5 102.5L1339.5 118.0L1339.1 123.4L1337.9 128.7L1335.9 133.9L1333.1 139.1L1329.5 144.0L1325.2 148.8L1320.2 153.3L1314.6 157.6L1308.3 161.5L1301.4 165.2L1294.0 168.4L1286.2 171.3L1278.0 173.8L1269.4 175.9L1260.5 177.5L1251.4 178.6L1242.2 179.3L1232.9 179.6L1223.6 179.3L1214.4 178.6L1205.3 177.5L1196.4 175.9L1187.8 173.8L1179.6 171.3L1171.8 168.4L1164.4 165.2L1157.5 161.5L1151.2 157.6L1145.6 153.3L1140.6 148.8L1136.3 144.0L1132.7 139.1L1129.9 133.9L1127.9 128.7L1126.7 123.4L1126.3 118.0Z"/>
<path class="g" d="M1333.1 126.3L1333.1 139.1"/>
<path class="g" d="M1331.5 126.3L1331.5 139.1"/>
<path class="g" d="M1331.5 139.1L1322.7 137.2"/>
<path class="gl" d="M1329.6 138.7L1320.5 137.2"/>
<path class="g" d="M1314.6 144.8L1314.6 157.6"/>
<path class="g" d="M1313.0 144.8L1313.0 157.6"/>
<path class="g" d="M1313.0 157.6L1301.3 151.9"/>
<path class="gl" d="M1311.0 157.2L1299.1 151.9"/>
<path class="g" d="M1286.2 158.6L1286.2 171.3"/>
<path class="g" d="M1284.6 158.6L1284.6 171.3"/>
<path class="g" d="M1284.6 171.3L1274.8 161.5"/>
<path class="gl" d="M1282.7 170.9L1272.6 161.5"/>
<path class="g" d="M1251.4 165.9L1251.4 178.6"/>
<path class="g" d="M1249.8 165.9L1249.8 178.6"/>
<path class="g" d="M1249.8 178.6L1246.4 167.5"/>
<path class="gl" d="M1247.9 178.2L1244.2 167.5"/>
<path class="g" d="M1214.4 165.9L1214.4 178.6"/>
<path class="g" d="M1216.0 165.9L1216.0 178.6"/>
<path class="g" d="M1216.0 178.6L1219.4 167.5"/>
<path class="gl" d="M1217.9 178.2L1221.6 167.5"/>
<path class="g" d="M1179.6 158.6L1179.6 171.3"/>
<path class="g" d="M1181.2 158.6L1181.2 171.3"/>
<path class="g" d="M1181.2 171.3L1191.0 161.5"/>
<path class="gl" d="M1183.1 170.9L1193.2 161.5"/>
<path class="g" d="M1151.2 144.8L1151.2 157.6"/>
<path class="g" d="M1152.8 144.8L1152.8 157.6"/>
<path class="g" d="M1152.8 157.6L1164.5 151.9"/>
<path class="gl" d="M1154.8 157.2L1166.7 151.9"/>
<path class="g" d="M1132.7 126.3L1132.7 139.1"/>
<path class="g" d="M1134.3 126.3L1134.3 139.1"/>
<path class="g" d="M1134.3 139.1L1143.1 137.2"/>
<path class="gl" d="M1136.2 138.7L1145.3 137.2"/>
<path class="g" d="M1339.5 118.0L1339.3 122.2L1338.5 126.4L1337.3 130.5L1335.5 134.6L1333.3 138.6L1330.7 142.5L1327.5 146.3L1324.0 150.0L1320.0 153.5L1315.6 156.9L1310.8 160.0L1305.7 163.0L1300.2 165.8L1294.4 168.3L1288.3 170.6L1281.9 172.7L1275.4 174.5L1268.6 176.0L1261.7 177.3L1254.6 178.3L1247.4 179.0L1240.2 179.4L1232.9 179.6L1225.6 179.4L1218.4 179.0L1211.2 178.3L1204.1 177.3L1197.2 176.0L1190.4 174.5L1183.9 172.7L1177.5 170.6L1171.4 168.3L1165.6 165.8L1160.1 163.0L1155.0 160.0L1150.2 156.9L1145.8 153.5L1141.8 150.0L1138.3 146.3L1135.1 142.5L1132.5 138.6L1130.3 134.6L1128.5 130.5L1127.3 126.4L1126.5 122.2L1126.3 118.0"/>
<path class="g" d="M1339.5 105.3L1339.3 109.5L1338.5 113.7L1337.3 117.8L1335.5 121.9L1333.3 125.9L1330.7 129.8L1327.5 133.6L1324.0 137.3L1320.0 140.8L1315.6 144.1L1310.8 147.3L1305.7 150.3L1300.2 153.0L1294.4 155.6L1288.3 157.9L1281.9 159.9L1275.4 161.7L1268.6 163.3L1261.7 164.5L1254.6 165.5L1247.4 166.3L1240.2 166.7L1232.9 166.8L1225.6 166.7L1218.4 166.3L1211.2 165.5L1204.1 164.5L1197.2 163.3L1190.4 161.7L1183.9 159.9L1177.5 157.9L1171.4 155.6L1165.6 153.0L1160.1 150.3L1155.0 147.3L1150.2 144.1L1145.8 140.8L1141.8 137.3L1138.3 133.6L1135.1 129.8L1132.5 125.9L1130.3 121.9L1128.5 117.8L1127.3 113.7L1126.5 109.5L1126.3 105.3"/>
<path class="gl" d="M1339.5 103.8L1339.3 108.0L1338.5 112.2L1337.3 116.3L1335.5 120.4L1333.3 124.4L1330.7 128.3L1327.5 132.1L1324.0 135.8L1320.0 139.3L1315.6 142.7L1310.8 145.8L1305.7 148.8L1300.2 151.6L1294.4 154.1L1288.3 156.4L1281.9 158.5L1275.4 160.3L1268.6 161.8L1261.7 163.1L1254.6 164.1L1247.4 164.8L1240.2 165.2L1232.9 165.4L1225.6 165.2L1218.4 164.8L1211.2 164.1L1204.1 163.1L1197.2 161.8L1190.4 160.3L1183.9 158.5L1177.5 156.4L1171.4 154.1L1165.6 151.6L1160.1 148.8L1155.0 145.8L1150.2 142.7L1145.8 139.3L1141.8 135.8L1138.3 132.1L1135.1 128.3L1132.5 124.4L1130.3 120.4L1128.5 116.3L1127.3 112.2L1126.5 108.0L1126.3 103.8"/>
<path class="g" d="M1339.5 102.5L1339.5 118.0"/>
<path class="g" d="M1126.3 102.5L1126.3 118.0"/>
<ellipse class="gw" cx="1232.9" cy="102.5" rx="106.6" ry="61.6"/>
<ellipse class="g" cx="1232.9" cy="101.9" rx="57.6" ry="33.2"/>
<ellipse class="gd" cx="1232.9" cy="101.7" rx="16.4" ry="9.5"/>
<ellipse class="g" cx="1232.9" cy="100.3" rx="11.0" ry="6.3"/>
<ellipse class="gl" cx="1232.9" cy="101.5" rx="11.0" ry="6.3"/>
<ellipse class="g" cx="1232.9" cy="99.5" rx="4.4" ry="2.5"/>
<ellipse class="g" cx="1258.3" cy="102.0" rx="4.0" ry="2.4"/>
<ellipse class="gff" cx="1258.3" cy="102.2" rx="2.7" ry="1.6"/>
<ellipse class="g" cx="1250.9" cy="112.4" rx="4.0" ry="2.4"/>
<ellipse class="gl" cx="1250.9" cy="112.6" rx="2.7" ry="1.5"/>
<ellipse class="g" cx="1232.9" cy="116.7" rx="4.0" ry="2.4"/>
<ellipse class="gff" cx="1232.9" cy="116.9" rx="2.7" ry="1.6"/>
<ellipse class="g" cx="1214.9" cy="112.4" rx="4.0" ry="2.4"/>
<ellipse class="gl" cx="1214.9" cy="112.6" rx="2.7" ry="1.5"/>
<ellipse class="g" cx="1207.5" cy="102.0" rx="4.0" ry="2.4"/>
<ellipse class="gff" cx="1207.5" cy="102.2" rx="2.7" ry="1.6"/>
<ellipse class="g" cx="1214.9" cy="91.6" rx="4.0" ry="2.4"/>
<ellipse class="gl" cx="1214.9" cy="91.8" rx="2.7" ry="1.5"/>
<ellipse class="g" cx="1232.9" cy="87.3" rx="4.0" ry="2.4"/>
<ellipse class="gff" cx="1232.9" cy="87.5" rx="2.7" ry="1.6"/>
<ellipse class="g" cx="1250.9" cy="91.6" rx="4.0" ry="2.4"/>
<ellipse class="gl" cx="1250.9" cy="91.8" rx="2.7" ry="1.5"/>
<ellipse class="g" cx="1306.5" cy="102.0" rx="4.3" ry="2.6"/>
<ellipse class="gff" cx="1306.5" cy="102.2" rx="2.9" ry="1.7"/>
<ellipse class="g" cx="1269.7" cy="138.8" rx="4.3" ry="2.6"/>
<ellipse class="gff" cx="1269.7" cy="139.0" rx="2.9" ry="1.7"/>
<ellipse class="g" cx="1196.1" cy="138.8" rx="4.3" ry="2.6"/>
<ellipse class="gff" cx="1196.1" cy="139.0" rx="2.9" ry="1.7"/>
<ellipse class="g" cx="1159.3" cy="102.0" rx="4.3" ry="2.6"/>
<ellipse class="gff" cx="1159.3" cy="102.2" rx="2.9" ry="1.7"/>
<ellipse class="g" cx="1196.1" cy="65.2" rx="4.3" ry="2.6"/>
<ellipse class="gff" cx="1196.1" cy="65.4" rx="2.9" ry="1.7"/>
<ellipse class="g" cx="1269.7" cy="65.2" rx="4.3" ry="2.6"/>
<ellipse class="gff" cx="1269.7" cy="65.4" rx="2.9" ry="1.7"/>
</g>
<g id="leftview">
<rect class="g" x="220.1" y="373.3" width="23.5" height="5.6"/>
<path class="gw" d="M125.3 378.9H338.9V397.8L317.5 400.2H146.7L125.3 397.8Z"/>
<path class="g" d="M125.3 378.9L181 377.3H283L338.9 378.9"/>
<path class="gl" d="M125.3 380.3L338.9 380.3"/>
<path class="g" d="M126.5 382.3L337.7 382.3"/>
<path class="g" d="M126.5 395.9L337.7 395.9"/>
<path class="gl" d="M125.3 397.8L338.9 397.8"/>
<path class="g" d="M126.6 382.3L126.6 395.9"/>
<path class="g" d="M135.0 382.3L135.0 395.9"/>
<path class="g" d="M135.8 382.3L135.8 395.9"/>
<path class="g" d="M154.9 382.3L154.9 395.9"/>
<path class="g" d="M157.4 382.3L157.4 395.9"/>
<path class="g" d="M173.2 382.3L173.2 395.9"/>
<path class="g" d="M174.9 382.3L174.9 395.9"/>
<path class="g" d="M177.4 382.3L177.4 395.9"/>
<path class="g" d="M179.0 382.3L179.0 395.9"/>
<path class="g" d="M185.7 382.3L185.7 395.9"/>
<path class="g" d="M187.3 382.3L187.3 395.9"/>
<path class="g" d="M196.5 382.3L196.5 395.9"/>
<path class="g" d="M199.0 382.3L199.0 395.9"/>
<path class="g" d="M221.4 382.3L221.4 395.9"/>
<path class="g" d="M223.1 382.3L223.1 395.9"/>
<path class="g" d="M224.8 382.3L224.8 395.9"/>
<path class="g" d="M248.9 382.3L248.9 395.9"/>
<path class="g" d="M251.4 382.3L251.4 395.9"/>
<path class="g" d="M253.0 382.3L253.0 395.9"/>
<path class="g" d="M258.0 382.3L258.0 395.9"/>
<path class="g" d="M259.7 382.3L259.7 395.9"/>
<path class="g" d="M276.3 382.3L276.3 395.9"/>
<path class="g" d="M279.7 382.3L279.7 395.9"/>
<path class="g" d="M293.0 382.3L293.0 395.9"/>
<path class="g" d="M294.6 382.3L294.6 395.9"/>
<path class="g" d="M297.1 382.3L297.1 395.9"/>
<path class="g" d="M301.3 382.3L301.3 395.9"/>
<path class="g" d="M318.7 382.3L318.7 395.9"/>
<path class="g" d="M320.4 382.3L320.4 395.9"/>
<path class="g" d="M334.5 382.3L334.5 395.9"/>
<path class="g" d="M337.0 382.3L337.0 395.9"/>
<path class="g" d="M146.7 400.2V440.1M317.5 400.2V440.1M146.7 433.3H317.5M146.7 435.5H317.5M146.7 440.1H317.5"/>
<path class="g" d="M146.7 440.1L170 451.7M317.5 440.1L294.2 451.7"/>
<path class="gl" d="M151.0 442.2L313.0 442.2"/>
<path class="gl" d="M163.0 448.5L301.0 448.5"/>
<path class="gl" d="M166.0 450.3L298.0 450.3"/>
<path class="g" d="M156.7 443.4L160.7 443.4L171.2 450.2L167.8 450.2Z"/>
<path class="g" d="M162.8 443.4L166.8 443.4L176.4 450.2L173.0 450.2Z"/>
<path class="g" d="M168.9 443.4L172.9 443.4L181.6 450.2L178.2 450.2Z"/>
<path class="g" d="M175.0 443.4L179.0 443.4L186.8 450.2L183.4 450.2Z"/>
<path class="g" d="M181.2 443.4L185.2 443.4L192.0 450.2L188.6 450.2Z"/>
<path class="g" d="M183.3 443.4L195.3 443.4L200.7 450.2L190.5 450.2Z"/>
<path class="g" d="M268.9 443.4L280.9 443.4L273.7 450.2L263.5 450.2Z"/>
<path class="g" d="M279.0 443.4L283.0 443.4L275.6 450.2L272.2 450.2Z"/>
<path class="g" d="M285.2 443.4L289.2 443.4L280.8 450.2L277.4 450.2Z"/>
<path class="g" d="M291.3 443.4L295.3 443.4L286.0 450.2L282.6 450.2Z"/>
<path class="g" d="M297.4 443.4L301.4 443.4L291.2 450.2L287.8 450.2Z"/>
<path class="g" d="M303.5 443.4L307.5 443.4L296.4 450.2L293.0 450.2Z"/>
<rect class="g" x="170.0" y="451.7" width="124.2" height="3.0"/>
<path class="g" d="M183.7 454.7V489.2M280.4 454.7V489.2M196.7 454.7V489.2M267.4 454.7V489.2"/>
<path class="gl" d="M183.7 456H280.4M183.7 460H280.4"/>
<path class="g" d="M184.3 461.5L186.2 461.5"/>
<path class="g" d="M278.0 461.5L279.9 461.5"/>
<path class="g" d="M184.3 464.6L186.2 464.6"/>
<path class="g" d="M278.0 464.6L279.9 464.6"/>
<path class="g" d="M184.3 467.8L186.2 467.8"/>
<path class="g" d="M278.0 467.8L279.9 467.8"/>
<path class="g" d="M184.3 470.9L186.2 470.9"/>
<path class="g" d="M278.0 470.9L279.9 470.9"/>
<path class="g" d="M184.3 474.1L186.2 474.1"/>
<path class="g" d="M278.0 474.1L279.9 474.1"/>
<path class="g" d="M184.3 477.2L186.2 477.2"/>
<path class="g" d="M278.0 477.2L279.9 477.2"/>
<path class="g" d="M184.3 480.4L186.2 480.4"/>
<path class="g" d="M278.0 480.4L279.9 480.4"/>
<path class="g" d="M184.3 483.6L186.2 483.6"/>
<path class="g" d="M278.0 483.6L279.9 483.6"/>
<path class="g" d="M184.3 486.7L186.2 486.7"/>
<path class="g" d="M278.0 486.7L279.9 486.7"/>
<path class="g" d="M183.7 489.2H202C208.5 489.2 209.5 494 206.3 498.2Q203.5 501.5 202.2 505"/>
<path class="g" d="M280.4 489.2H262.2C255.7 489.2 254.7 494 257.9 498.2Q260.7 501.5 262 505"/>
<path class="g" d="M202.0 489.2L262.2 489.2"/>
<path class="g" d="M187.1 489.2L187.1 495.3"/>
<path class="g" d="M188.9 489.2L188.9 495.3"/>
<path class="g" d="M192.4 489.2L192.4 495.3"/>
<path class="g" d="M194.8 489.2L194.8 495.3"/>
<path class="g" d="M198.3 489.2L198.3 495.3"/>
<path class="g" d="M200.7 489.2L200.7 495.3"/>
<path class="g" d="M263.8 489.2L263.8 495.3"/>
<path class="g" d="M265.9 489.2L265.9 495.3"/>
<path class="g" d="M269.3 489.2L269.3 495.3"/>
<path class="g" d="M271.7 489.2L271.7 495.3"/>
<path class="g" d="M275.2 489.2L275.2 495.3"/>
<path class="g" d="M277.3 489.2L277.3 495.3"/>
<path class="g" d="M187.1 495.3L189.1 495.3"/>
<path class="g" d="M192.4 495.3L194.4 495.3"/>
<path class="g" d="M198.3 495.3L200.3 495.3"/>
<path class="g" d="M263.8 495.3L265.8 495.3"/>
<path class="g" d="M269.3 495.3L271.3 495.3"/>
<path class="g" d="M275.2 495.3L277.2 495.3"/>
<rect class="gw" x="197.8" y="434.5" width="68.9" height="20.2"/>
<path class="gl" d="M197.8 436.6L266.7 436.6"/>
<rect class="g" x="190.0" y="444.2" width="6.6" height="10.5"/>
<rect class="g" x="267.6" y="444.2" width="6.6" height="10.5"/>
<path class="g" d="M202.1 505.0A35.8 35.8 0 0 0 214.2 555.5M262.1 505.0A35.8 35.8 0 0 1 250.0 555.5"/>
<circle class="g" cx="232.1" cy="524.5" r="32.1" style="stroke:#d2d2d2;stroke-width:2.2"/>
<circle class="gd" cx="232.1" cy="524.5" r="33.3"/>
<circle class="g" cx="232.1" cy="524.5" r="31.0"/>
<circle class="gl" cx="232.1" cy="524.5" r="28.6"/>
<circle class="g" cx="232.1" cy="524.5" r="25.2"/>
<circle class="g" cx="232.1" cy="524.5" r="22.6"/>
<path class="gl" d="M209.5 512.5L205.1 510.1"/>
<path class="gl" d="M210.9 510.2L206.7 507.4"/>
<path class="gl" d="M212.5 508.0L208.7 504.8"/>
<path class="gl" d="M214.3 506.1L210.8 502.5"/>
<path class="gl" d="M216.3 504.3L213.3 500.4"/>
<path class="gl" d="M218.5 502.8L215.9 498.5"/>
<path class="gl" d="M220.9 501.5L218.7 497.0"/>
<path class="gl" d="M223.3 500.4L221.6 495.7"/>
<path class="gl" d="M240.9 500.4L242.6 495.7"/>
<path class="gl" d="M243.3 501.5L245.5 497.0"/>
<path class="gl" d="M245.7 502.8L248.3 498.5"/>
<path class="gl" d="M247.9 504.3L250.9 500.4"/>
<path class="gl" d="M249.9 506.1L253.4 502.5"/>
<path class="gl" d="M251.7 508.0L255.5 504.8"/>
<path class="gl" d="M253.3 510.2L257.5 507.4"/>
<path class="gl" d="M254.7 512.5L259.1 510.1"/>
<path class="gl" d="M253.8 538.1L258.1 540.7"/>
<path class="gl" d="M252.3 540.3L256.2 543.3"/>
<path class="gl" d="M250.5 542.3L254.1 545.8"/>
<path class="gl" d="M248.6 544.1L251.8 547.9"/>
<path class="gl" d="M246.4 545.7L249.2 549.9"/>
<path class="gl" d="M244.1 547.1L246.5 551.5"/>
<path class="gl" d="M241.7 548.2L243.6 552.9"/>
<path class="gl" d="M239.2 549.1L240.5 553.9"/>
<path class="gl" d="M236.5 549.7L237.4 554.6"/>
<path class="gl" d="M233.9 550.0L234.2 555.0"/>
<path class="gl" d="M231.2 550.1L231.0 555.1"/>
<path class="gl" d="M228.5 549.9L227.8 554.8"/>
<path class="gl" d="M225.9 549.3L224.7 554.2"/>
<path class="gl" d="M223.3 548.6L221.6 553.3"/>
<path class="gl" d="M220.9 547.5L218.7 552.0"/>
<path class="gl" d="M218.5 546.2L215.9 550.5"/>
<path class="gl" d="M216.3 544.7L213.3 548.6"/>
<path class="gl" d="M214.3 542.9L210.8 546.5"/>
<path class="gl" d="M212.5 541.0L208.7 544.2"/>
<path class="gl" d="M210.9 538.8L206.7 541.6"/>
<path class="g" d="M220.1 495.2V527.2M243.7 495.2V524M227.2 494V523M229 494V523M234.9 494V523M236.7 494V523"/>
<rect class="g" x="220.1" y="523.0" width="7.1" height="5.4" rx="1.5"/>
<rect class="gff" x="227.2" y="523.5" width="14.2" height="4.1"/>
<rect class="gw" x="248.5" y="523.1" width="22.4" height="4.1" rx="2"/>
<path class="g" d="M241.4 525.2L248.5 525.2"/>
<rect class="g" x="193.0" y="520.7" width="3.5" height="7.7" rx="1"/>
<rect class="gl" x="208.6" y="519.5" width="2.0" height="7.5"/>
<path class="g" d="M213.6 554.5V573.2M249.6 554.5V573.2M218.4 557V573.2M220.1 558V573.2M247.9 557.5V573.2"/>
<path class="gl" d="M220.1 561.4H247.9M220.1 563.8H247.9M220.1 567.9H247.9M220.1 570.9H247.9"/>
<rect class="gf" x="230.2" y="553.2" width="2.9" height="20.0"/>
<rect class="g" x="216.3" y="561.0" width="3.0" height="9.0" rx="1"/>
<rect class="g" x="201.8" y="573.2" width="60.2" height="8.3"/>
<path class="g" d="M204.8 573.2L204.8 581.5"/>
<path class="g" d="M208.3 573.2L208.3 581.5"/>
<path class="g" d="M211.9 573.2L211.9 581.5"/>
<path class="g" d="M214.8 573.2L214.8 581.5"/>
<path class="g" d="M249.6 573.2L249.6 581.5"/>
<path class="g" d="M250.8 573.2L250.8 581.5"/>
<path class="g" d="M254.4 573.2L254.4 581.5"/>
<path class="g" d="M257.9 573.2L257.9 581.5"/>
<path class="g" d="M214.8 581.5V582Q214.8 584.4 217.5 584.4H247Q249.6 584.4 249.6 582V581.5"/>
<rect class="g" x="236.0" y="584.4" width="9.5" height="1.9"/>
</g>
<g id="rightview">
<rect class="g" x="1200.1" y="373.3" width="23.5" height="5.6"/>
<path class="gw" d="M1105.3 378.9H1318.9V397.8L1297.5 400.2H1126.7L1105.3 397.8Z"/>
<path class="g" d="M1105.3 378.9L1161 377.3H1263L1318.9 378.9"/>
<path class="gl" d="M1105.3 380.3L1318.9 380.3"/>
<path class="g" d="M1106.5 382.3L1317.7 382.3"/>
<path class="g" d="M1106.5 395.9L1317.7 395.9"/>
<path class="gl" d="M1105.3 397.8L1318.9 397.8"/>
<path class="g" d="M1106.6 382.3L1106.6 395.9"/>
<path class="g" d="M1115.0 382.3L1115.0 395.9"/>
<path class="g" d="M1115.8 382.3L1115.8 395.9"/>
<path class="g" d="M1134.9 382.3L1134.9 395.9"/>
<path class="g" d="M1137.4 382.3L1137.4 395.9"/>
<path class="g" d="M1153.2 382.3L1153.2 395.9"/>
<path class="g" d="M1154.9 382.3L1154.9 395.9"/>
<path class="g" d="M1157.4 382.3L1157.4 395.9"/>
<path class="g" d="M1159.0 382.3L1159.0 395.9"/>
<path class="g" d="M1165.7 382.3L1165.7 395.9"/>
<path class="g" d="M1167.3 382.3L1167.3 395.9"/>
<path class="g" d="M1176.5 382.3L1176.5 395.9"/>
<path class="g" d="M1179.0 382.3L1179.0 395.9"/>
<path class="g" d="M1201.4 382.3L1201.4 395.9"/>
<path class="g" d="M1203.1 382.3L1203.1 395.9"/>
<path class="g" d="M1204.8 382.3L1204.8 395.9"/>
<path class="g" d="M1228.9 382.3L1228.9 395.9"/>
<path class="g" d="M1231.4 382.3L1231.4 395.9"/>
<path class="g" d="M1233.0 382.3L1233.0 395.9"/>
<path class="g" d="M1238.0 382.3L1238.0 395.9"/>
<path class="g" d="M1239.7 382.3L1239.7 395.9"/>
<path class="g" d="M1256.3 382.3L1256.3 395.9"/>
<path class="g" d="M1259.7 382.3L1259.7 395.9"/>
<path class="g" d="M1273.0 382.3L1273.0 395.9"/>
<path class="g" d="M1274.6 382.3L1274.6 395.9"/>
<path class="g" d="M1277.1 382.3L1277.1 395.9"/>
<path class="g" d="M1281.3 382.3L1281.3 395.9"/>
<path class="g" d="M1298.7 382.3L1298.7 395.9"/>
<path class="g" d="M1300.4 382.3L1300.4 395.9"/>
<path class="g" d="M1314.5 382.3L1314.5 395.9"/>
<path class="g" d="M1317.0 382.3L1317.0 395.9"/>
<path class="g" d="M1126.7 400.2V440.1M1297.5 400.2V440.1M1126.7 433.3H1297.5M1126.7 435.5H1297.5M1126.7 440.1H1297.5"/>
<path class="g" d="M1126.7 440.1L1150 451.7M1297.5 440.1L1274.2 451.7"/>
<path class="gl" d="M1131.0 442.2L1293.0 442.2"/>
<path class="gl" d="M1143.0 448.5L1281.0 448.5"/>
<path class="gl" d="M1146.0 450.3L1278.0 450.3"/>
<path class="g" d="M1136.7 443.4L1140.7 443.4L1151.2 450.2L1147.8 450.2Z"/>
<path class="g" d="M1142.8 443.4L1146.8 443.4L1156.4 450.2L1153.0 450.2Z"/>
<path class="g" d="M1148.9 443.4L1152.9 443.4L1161.6 450.2L1158.2 450.2Z"/>
<path class="g" d="M1156.1 443.4L1160.1 443.4L1167.7 450.2L1164.3 450.2Z"/>
<path class="g" d="M1165.3 443.4L1177.3 443.4L1182.4 450.2L1172.2 450.2Z"/>
<path class="g" d="M1181.6 443.4L1193.6 443.4L1196.3 450.2L1186.1 450.2Z"/>
<path class="g" d="M1197.9 443.4L1209.9 443.4L1210.2 450.2L1200.0 450.2Z"/>
<path class="g" d="M1214.3 443.4L1226.3 443.4L1224.2 450.2L1214.0 450.2Z"/>
<path class="g" d="M1230.6 443.4L1242.6 443.4L1238.1 450.2L1227.9 450.2Z"/>
<path class="g" d="M1246.9 443.4L1258.9 443.4L1252.0 450.2L1241.8 450.2Z"/>
<path class="g" d="M1264.1 443.4L1268.1 443.4L1259.9 450.2L1256.5 450.2Z"/>
<path class="g" d="M1271.3 443.4L1275.3 443.4L1266.0 450.2L1262.6 450.2Z"/>
<path class="g" d="M1277.4 443.4L1281.4 443.4L1271.2 450.2L1267.8 450.2Z"/>
<path class="g" d="M1283.5 443.4L1287.5 443.4L1276.4 450.2L1273.0 450.2Z"/>
<rect class="g" x="1150.0" y="451.7" width="124.2" height="3.0"/>
<path class="g" d="M1163.7 454.7V489.2M1260.4 454.7V489.2M1176.7 454.7V489.2M1247.4 454.7V489.2"/>
<path class="gl" d="M1163.7 456H1260.4M1163.7 460H1260.4"/>
<path class="g" d="M1164.3 461.5L1166.2 461.5"/>
<path class="g" d="M1258.0 461.5L1259.9 461.5"/>
<path class="g" d="M1164.3 464.6L1166.2 464.6"/>
<path class="g" d="M1258.0 464.6L1259.9 464.6"/>
<path class="g" d="M1164.3 467.8L1166.2 467.8"/>
<path class="g" d="M1258.0 467.8L1259.9 467.8"/>
<path class="g" d="M1164.3 470.9L1166.2 470.9"/>
<path class="g" d="M1258.0 470.9L1259.9 470.9"/>
<path class="g" d="M1164.3 474.1L1166.2 474.1"/>
<path class="g" d="M1258.0 474.1L1259.9 474.1"/>
<path class="g" d="M1164.3 477.2L1166.2 477.2"/>
<path class="g" d="M1258.0 477.2L1259.9 477.2"/>
<path class="g" d="M1164.3 480.4L1166.2 480.4"/>
<path class="g" d="M1258.0 480.4L1259.9 480.4"/>
<path class="g" d="M1164.3 483.6L1166.2 483.6"/>
<path class="g" d="M1258.0 483.6L1259.9 483.6"/>
<path class="g" d="M1164.3 486.7L1166.2 486.7"/>
<path class="g" d="M1258.0 486.7L1259.9 486.7"/>
<path class="g" d="M1163.7 489.2H1182C1188.5 489.2 1189.5 494 1186.3 498.2Q1183.5 501.5 1182.2 505"/>
<path class="g" d="M1260.4 489.2H1242.2C1235.7 489.2 1234.7 494 1237.9 498.2Q1240.7 501.5 1242 505"/>
<path class="g" d="M1182.0 489.2L1242.2 489.2"/>
<path class="g" d="M1167.1 489.2L1167.1 495.3"/>
<path class="g" d="M1168.9 489.2L1168.9 495.3"/>
<path class="g" d="M1172.4 489.2L1172.4 495.3"/>
<path class="g" d="M1174.8 489.2L1174.8 495.3"/>
<path class="g" d="M1178.3 489.2L1178.3 495.3"/>
<path class="g" d="M1180.7 489.2L1180.7 495.3"/>
<path class="g" d="M1243.8 489.2L1243.8 495.3"/>
<path class="g" d="M1245.9 489.2L1245.9 495.3"/>
<path class="g" d="M1249.3 489.2L1249.3 495.3"/>
<path class="g" d="M1251.7 489.2L1251.7 495.3"/>
<path class="g" d="M1255.2 489.2L1255.2 495.3"/>
<path class="g" d="M1257.3 489.2L1257.3 495.3"/>
<path class="g" d="M1167.1 495.3L1169.1 495.3"/>
<path class="g" d="M1172.4 495.3L1174.4 495.3"/>
<path class="g" d="M1178.3 495.3L1180.3 495.3"/>
<path class="g" d="M1243.8 495.3L1245.8 495.3"/>
<path class="g" d="M1249.3 495.3L1251.3 495.3"/>
<path class="g" d="M1255.2 495.3L1257.2 495.3"/>
<circle class="gw" cx="1212.1" cy="524.5" r="35.8"/>
<circle class="gl" cx="1212.1" cy="524.5" r="32.6"/>
<circle class="g" cx="1212.1" cy="524.5" r="30.2"/>
<circle class="g" cx="1212.1" cy="524.5" r="28.3"/>
<path class="gw" stroke-linejoin="round" d="M1219.9 497.0L1222.7 489.0L1226.8 490.5L1223.8 498.4Z"/>
<path class="gw" stroke-linejoin="round" d="M1235.8 508.4L1243.0 504.1L1245.2 507.9L1237.8 512.1Z"/>
<path class="gw" stroke-linejoin="round" d="M1240.6 527.4L1248.9 528.8L1248.1 533.1L1239.8 531.5Z"/>
<path class="gw" stroke-linejoin="round" d="M1232.0 545.0L1237.5 551.4L1234.2 554.2L1228.8 547.7Z"/>
<path class="gw" stroke-linejoin="round" d="M1200.4 498.4L1197.4 490.5L1201.5 489.0L1204.3 497.0Z"/>
<path class="gw" stroke-linejoin="round" d="M1186.4 512.1L1179.0 507.9L1181.2 504.1L1188.4 508.4Z"/>
<path class="gw" stroke-linejoin="round" d="M1184.4 531.5L1176.1 533.1L1175.3 528.8L1183.6 527.4Z"/>
<path class="gw" stroke-linejoin="round" d="M1195.4 547.7L1190.0 554.2L1186.7 551.4L1192.2 545.0Z"/>
<rect class="g" x="1172.4" y="520.0" width="4.1" height="7.8" rx="1.5"/>
<rect class="g" x="1247.7" y="520.0" width="3.2" height="7.8" rx="1.5"/>
<circle class="g" cx="1212.2" cy="524.8" r="23.5" style="fill:#dcdcdc"/>
<circle class="g" cx="1212.2" cy="524.8" r="19.4" style="fill:#b6b6b6;stroke:#aaa"/>
<path class="gl" d="M1204.0 516.5L1216.0 516.5"/>
<path class="g" d="M1194.2 552V577Q1194.2 582.7 1200 582.7H1225Q1230.8 582.7 1230.8 577V552"/>
<path class="g" d="M1197.2 554V576.5Q1197.2 580.3 1201 580.3H1208.4M1227.9 554V576.5Q1227.9 580.3 1224 580.3H1215.5"/>
<path class="g" d="M1208.4 553.2V580.3M1210.7 553.2V578M1213.1 553.2V578M1215.5 553.2V580.3M1210.7 578H1213.1"/>
<path class="gl" d="M1208.4 570.3H1215.5M1208.4 571.6H1215.5"/>
<path class="g" d="M1197.2 557Q1203 562.5 1208.4 562.5M1227.9 557Q1221 562.5 1215.5 562.5"/>
<rect class="g" x="1181.8" y="573.2" width="12.4" height="8.3"/>
<rect class="g" x="1230.8" y="573.2" width="11.4" height="8.3"/>
<path class="g" d="M1185.0 573.2L1185.0 581.5"/>
<path class="g" d="M1188.5 573.2L1188.5 581.5"/>
<path class="g" d="M1192.0 573.2L1192.0 581.5"/>
<path class="g" d="M1233.5 573.2L1233.5 581.5"/>
<path class="g" d="M1236.5 573.2L1236.5 581.5"/>
<path class="g" d="M1239.5 573.2L1239.5 581.5"/>
<rect class="gf" x="1198.4" y="584.3" width="9.4" height="1.7"/>
</g>
<g id="frontview">
<path class="gw" d="M569.8 378.9H783.6V397.8L761.6 400.2H591.6L569.8 397.8Z"/>
<path class="gl" d="M569.8 380.3L783.6 380.3"/>
<path class="g" d="M571.0 382.3L782.4 382.3"/>
<path class="g" d="M571.0 395.9L782.4 395.9"/>
<path class="gl" d="M569.8 397.8L783.6 397.8"/>
<path class="g" d="M570.8 382.3L570.8 395.9"/>
<path class="g" d="M573.6 382.3L573.6 395.9"/>
<path class="g" d="M588.8 382.3L588.8 395.9"/>
<path class="g" d="M607.5 382.3L607.5 395.9"/>
<path class="g" d="M608.9 382.3L608.9 395.9"/>
<path class="g" d="M612.5 382.3L612.5 395.9"/>
<path class="g" d="M614.7 382.3L614.7 395.9"/>
<path class="g" d="M616.1 382.3L616.1 395.9"/>
<path class="g" d="M628.3 382.3L628.3 395.9"/>
<path class="g" d="M631.2 382.3L631.2 395.9"/>
<path class="g" d="M648.5 382.3L648.5 395.9"/>
<path class="g" d="M650.6 382.3L650.6 395.9"/>
<path class="g" d="M655.0 382.3L655.0 395.9"/>
<path class="g" d="M657.1 382.3L657.1 395.9"/>
<path class="g" d="M658.6 382.3L658.6 395.9"/>
<path class="g" d="M682.3 382.3L682.3 395.9"/>
<path class="g" d="M684.5 382.3L684.5 395.9"/>
<path class="g" d="M686.6 382.3L686.6 395.9"/>
<path class="g" d="M708.9 382.3L708.9 395.9"/>
<path class="g" d="M711.1 382.3L711.1 395.9"/>
<path class="g" d="M712.5 382.3L712.5 395.9"/>
<path class="g" d="M721.2 382.3L721.2 395.9"/>
<path class="g" d="M722.6 382.3L722.6 395.9"/>
<path class="g" d="M731.3 382.3L731.3 395.9"/>
<path class="g" d="M732.7 382.3L732.7 395.9"/>
<path class="g" d="M736.3 382.3L736.3 395.9"/>
<path class="g" d="M752.1 382.3L752.1 395.9"/>
<path class="g" d="M753.6 382.3L753.6 395.9"/>
<path class="g" d="M773.0 382.3L773.0 395.9"/>
<path class="g" d="M774.4 382.3L774.4 395.9"/>
<path class="g" d="M781.0 382.3L781.0 395.9"/>
<path class="g" d="M569.8 378.9L626 377.3H727L783.6 378.9"/>
<path class="g" d="M591.6 400.2V440.1M761.5 400.2V440.1M591.6 433.3H761.5M591.6 435.5H761.5M591.6 440.1H761.5"/>
<path class="g" d="M591.6 440.1L606.7 451.3H746.5L761.5 440.1"/>
<path class="gl" d="M596.0 442.2L757.0 442.2"/>
<path class="gl" d="M603.0 448.5L750.0 448.5"/>
<path class="gl" d="M605.0 450.3L748.0 450.3"/>
<path class="g" d="M604.9 443.3L612.9 443.3L622.2 449.8L616.2 449.8Z"/>
<path class="gl" d="M606.1 444.6L611.7 444.6L619.5 448.8L615.5 448.8Z"/>
<path class="g" d="M617.7 443.3L628.7 443.3L635.9 449.8L626.9 449.8Z"/>
<path class="gl" d="M618.9 444.6L627.5 444.6L633.5 448.8L626.5 448.8Z"/>
<path class="g" d="M634.2 443.3L645.2 443.3L649.8 449.8L640.8 449.8Z"/>
<path class="gl" d="M635.4 444.6L644.0 444.6L647.8 448.8L640.8 448.8Z"/>
<path class="g" d="M651.6 443.3L662.6 443.3L664.6 449.8L655.6 449.8Z"/>
<path class="gl" d="M652.8 444.6L661.4 444.6L663.1 448.8L656.1 448.8Z"/>
<path class="g" d="M671.1 443.3L682.1 443.3L681.1 449.8L672.1 449.8Z"/>
<path class="gl" d="M672.3 444.6L680.9 444.6L680.1 448.8L673.1 448.8Z"/>
<path class="g" d="M690.6 443.3L701.6 443.3L697.6 449.8L688.6 449.8Z"/>
<path class="gl" d="M691.8 444.6L700.4 444.6L697.1 448.8L690.1 448.8Z"/>
<path class="g" d="M708.0 443.3L719.0 443.3L712.4 449.8L703.4 449.8Z"/>
<path class="gl" d="M709.2 444.6L717.8 444.6L712.4 448.8L705.4 448.8Z"/>
<path class="g" d="M724.5 443.3L735.5 443.3L726.3 449.8L717.3 449.8Z"/>
<path class="gl" d="M725.7 444.6L734.3 444.6L726.7 448.8L719.7 448.8Z"/>
<path class="g" d="M740.3 443.3L748.3 443.3L737.0 449.8L731.0 449.8Z"/>
<path class="gl" d="M741.5 444.6L747.1 444.6L737.7 448.8L733.7 448.8Z"/>
<path class="g" d="M606.7 451.3V454.9M738.5 451.3V454.9"/>
<rect class="gl" x="607.5" y="451.3" width="5.5" height="1.7"/>
<path class="g" d="M755 446.3L775.9 434.5H812.4V454.5"/>
<path class="gl" d="M757 448L777 437M777.3 434.5V445.5M779.5 437H789.5V445.5M786.5 437V445.5M774.5 445.5H790V454.5M774.5 445.5V454.5M809.5 434.5V454.5"/>
<rect class="g" x="801.5" y="452.0" width="5.0" height="2.5" rx="1"/>
<rect class="g" x="601.1" y="454.9" width="212.1" height="34.1"/>
<path class="gl" d="M601.1 456.8L813.2 456.8"/>
<path class="g" d="M613.9 454.9L613.9 489.0"/>
<path class="gl" d="M608.0 461.9L800.7 461.9" style="stroke-width:1.7;stroke:#bcbcbc"/>
<path class="gl" d="M608.0 465.4L800.7 465.4" style="stroke-width:1.7;stroke:#bcbcbc"/>
<path class="gl" d="M608.0 468.8L800.7 468.8" style="stroke-width:1.7;stroke:#bcbcbc"/>
<path class="gl" d="M608.0 472.3L800.7 472.3" style="stroke-width:1.7;stroke:#bcbcbc"/>
<path class="gl" d="M608.0 475.7L800.7 475.7" style="stroke-width:1.7;stroke:#bcbcbc"/>
<path class="gl" d="M608.0 479.2L800.7 479.2" style="stroke-width:1.7;stroke:#bcbcbc"/>
<path class="gl" d="M608.0 482.7L800.7 482.7" style="stroke-width:1.7;stroke:#bcbcbc"/>
<path class="gl" d="M608.0 486.1L800.7 486.1" style="stroke-width:1.7;stroke:#bcbcbc"/>
<path class="gl" d="M613.9 458.5L813.2 458.5"/>
<path class="gl" d="M601.1 488.2L813.2 488.2"/>
<path class="g" d="M800.7 458.5L800.7 489.0"/>
<path class="gl" d="M801.5 461.9L806.5 461.9"/>
<path class="gl" d="M801.5 465.4L806.5 465.4"/>
<path class="gl" d="M801.5 468.8L806.5 468.8"/>
<path class="gl" d="M801.5 472.3L806.5 472.3"/>
<path class="gl" d="M801.5 475.7L806.5 475.7"/>
<path class="gl" d="M801.5 479.2L806.5 479.2"/>
<path class="gl" d="M801.5 482.7L806.5 482.7"/>
<path class="gl" d="M801.5 486.1L806.5 486.1"/>
<path class="gff" d="M612.3 489.4L628.9 489.4L626.4 494.8L614.8 494.8Z"/>
<path class="gff" d="M648.0 489.4L705.4 489.4L702.9 494.8L651.3 494.8Z"/>
<path class="gff" d="M723.7 489.4L800.7 489.4L800.7 494.8L726.2 494.8Z"/>
<path class="g" d="M613.9 489L616 495H625.5L628 489M647 489L650.5 495H703.5L706.5 489M722.7 489L726 495H800.7"/>
<path class="g" d="M597.1 488.7V560M601.6 488.7V585.3M597.1 488.7H613.9M601.6 499.2H750.5M750.5 495V561.9"/>
<path class="gl" d="M601.6 496.5L750.5 496.5"/>
<rect class="g" x="631.6" y="507.1" width="13.4" height="35.3" rx="6.7"/>
<rect class="g" x="708.4" y="507.1" width="13.4" height="35.3" rx="6.7"/>
<path class="gl" d="M632 519Q638 520 644.5 523M632 529Q638 530 644.5 531"/>
<circle class="g" cx="614.6" cy="524.8" r="5.2"/>
<circle class="gl" cx="614.6" cy="524.8" r="3.2"/>
<circle class="gff" cx="614.6" cy="524.8" r="2.2"/>
<circle class="g" cx="661.8" cy="524.8" r="3.8"/>
<circle class="g" cx="691.3" cy="524.8" r="3.8"/>
<path class="gl" d="M750.5 522.5H841.5M750.5 530H841.5"/>
<rect class="gl" x="841.5" y="521.5" width="9.5" height="8.0"/>
<rect class="gl" x="869.0" y="520.5" width="6.0" height="10.5"/>
<rect class="gl" x="876.0" y="521.0" width="6.0" height="9.5"/>
<rect class="gl" x="884.0" y="522.0" width="13.0" height="5.0" style="fill:#d8d8d8"/>
<rect class="gl" x="897.0" y="523.5" width="11.0" height="5.0"/>
<rect class="gl" x="909.0" y="524.0" width="9.0" height="6.0"/>
<rect class="gl" x="919.0" y="524.5" width="12.3" height="5.0"/>
<path class="gl" d="M851.0 523.0L869.0 523.0"/>
<path class="gl" d="M851.0 529.0L869.0 529.0"/>
<path class="g" d="M601.6 553.6H603.5V551.7H624.6Q628.5 551.7 628.5 555.5V567Q629 572.1 633.6 572.1H739.1Q744 571 746 566Q748 562.5 750.7 561.9"/>
<path class="g" d="M628.5 557.4H750.5M628.5 561.9H750.5"/>
<circle class="gw" cx="641.9" cy="567.7" r="6.1"/>
<circle class="g" cx="641.9" cy="567.7" r="4.3"/>
<circle class="g" cx="641.9" cy="567.7" r="2.2"/>
<circle class="gw" cx="688.0" cy="567.7" r="6.1"/>
<circle class="g" cx="688.0" cy="567.7" r="4.3"/>
<circle class="g" cx="688.0" cy="567.7" r="2.2"/>
<circle class="gw" cx="733.6" cy="567.7" r="6.1"/>
<circle class="g" cx="733.6" cy="567.7" r="4.3"/>
<circle class="g" cx="733.6" cy="567.7" r="2.2"/>
<rect class="g" x="627.2" y="574.0" width="99.1" height="7.7"/>
<path class="gl" d="M630.4 574V581.7M634.9 574V581.7M637.4 574V581.7M716.8 574V581.7M718.7 574V581.7M723.1 574V581.7"/>
<rect class="g" x="649.6" y="581.7" width="8.9" height="4.3"/>
<rect class="g" x="695.0" y="581.7" width="9.0" height="4.3"/>
<path class="gd" d="M596.5 488.7C585 489.5 574 492 571.5 495.4Q568.7 497.5 568.7 501V547.8"/>
<path class="gl" d="M596.5 491.5C586 492.2 577 494.5 574 497Q571.5 499 571.5 502V546"/>
<path class="gl" d="M574.7 497V546M594 491.7V551"/>
<path class="gd" d="M569.5 509.7L597.1 506.7M569.5 513.2L597.1 510.5"/>
<path class="gd" d="M569.5 528.8L597.1 525.8M569.5 532.3L597.1 529.6"/>
<path class="gd" d="M569.5 547.4L597.1 544.4M569.5 550.9L597.1 548.2"/>
<path class="g" d="M568.7 547.8C570 556 574 568 579.2 576Q583 582 587.5 585.3"/>
<path class="g" d="M571.5 549C576 550 582 552 585.6 554.2V585.3"/>
<path class="gl" d="M573 553C575 562 578.5 571 582.5 577.5"/>
<path class="g" d="M587.5 555V585.3M597.1 560V585.3M587.5 577.9H601.6M585.6 585.3H601.6M594 551V560H597.1"/>
</g>
<g id="bottomview">
<path class="g" d="M760 761.3H805.6A8 8 0 0 1 813.6 769.3V848.4A8 8 0 0 1 805.6 856.4H760"/>
<path class="g" d="M772 774H807Q811 774 811 778V837.5Q811 841.5 807 841.5H772"/>
<path class="gl" d="M809.8 776.0L809.8 839.5"/>
<path class="gl" d="M772.0 776.0L807.0 776.0"/>
<path class="gl" d="M772.0 839.5L807.0 839.5"/>
<circle class="gw" cx="784.0" cy="773.3" r="6.6"/>
<circle class="g" cx="784.0" cy="773.3" r="5.0"/>
<circle class="g" cx="784.0" cy="773.3" r="3.2"/>
<circle class="g" cx="784.0" cy="773.3" r="1.4"/>
<circle class="gw" cx="784.0" cy="845.0" r="6.6"/>
<circle class="g" cx="784.0" cy="845.0" r="5.0"/>
<circle class="g" cx="784.0" cy="845.0" r="3.2"/>
<circle class="g" cx="784.0" cy="845.0" r="1.4"/>
<circle class="g" cx="805.1" cy="770.0" r="3.5"/>
<circle class="g" cx="805.1" cy="770.0" r="1.6"/>
<circle class="g" cx="805.1" cy="848.0" r="3.5"/>
<circle class="g" cx="805.1" cy="848.0" r="1.6"/>
<rect class="g" x="787.3" y="781.6" width="20.5" height="5.3"/>
<rect class="g" x="787.3" y="789.9" width="20.5" height="5.3"/>
<rect class="g" x="787.3" y="798.1" width="20.5" height="5.3"/>
<rect class="g" x="787.3" y="806.4" width="20.5" height="5.3"/>
<rect class="g" x="787.3" y="814.6" width="20.5" height="5.3"/>
<rect class="g" x="787.3" y="822.9" width="20.5" height="5.3"/>
<rect class="g" x="787.3" y="831.1" width="20.5" height="5.3"/>
<path class="g" d="M572.5 780L569.5 782.5Q568.4 784 568.4 786V832Q568.4 834 569.5 835.5L572.5 838"/>
<path class="gl" d="M570.5 786V832"/>
<circle class="gw" cx="676.6" cy="809.0" r="106.6" style="stroke:#9a9a9a;stroke-width:1.2"/>
<circle class="g" cx="676.6" cy="809.0" r="57.8"/>
<circle class="gd" cx="676.6" cy="809.0" r="16.2" style="stroke-width:1.5"/>
<circle class="gd" cx="676.6" cy="809.0" r="10.8"/>
<circle class="g" cx="676.6" cy="809.0" r="4.5"/>
<circle class="g" cx="676.6" cy="809.0" r="25.3" stroke-dasharray="4 4.2"/>
<circle class="gd" cx="676.6" cy="783.7" r="3.3"/>
<path class="gl" d="M676.6 788.5L676.6 778.5"/>
<path class="gl" d="M672.1 783.7L681.1 783.7"/>
<circle class="gd" cx="694.5" cy="791.1" r="3.3"/>
<path class="gl" d="M691.1 794.5L698.2 787.4"/>
<path class="gl" d="M691.3 787.9L697.7 794.3"/>
<circle class="gd" cx="701.9" cy="809.0" r="3.3"/>
<path class="gl" d="M697.1 809.0L707.1 809.0"/>
<path class="gl" d="M701.9 804.5L701.9 813.5"/>
<circle class="gd" cx="694.5" cy="826.9" r="3.3"/>
<path class="gl" d="M691.1 823.5L698.2 830.6"/>
<path class="gl" d="M697.7 823.7L691.3 830.1"/>
<circle class="gd" cx="676.6" cy="834.3" r="3.3"/>
<path class="gl" d="M676.6 829.5L676.6 839.5"/>
<path class="gl" d="M681.1 834.3L672.1 834.3"/>
<circle class="gd" cx="658.7" cy="826.9" r="3.3"/>
<path class="gl" d="M662.1 823.5L655.0 830.6"/>
<path class="gl" d="M661.9 830.1L655.5 823.7"/>
<circle class="gd" cx="651.3" cy="809.0" r="3.3"/>
<path class="gl" d="M656.1 809.0L646.1 809.0"/>
<path class="gl" d="M651.3 813.5L651.3 804.5"/>
<circle class="gd" cx="658.7" cy="791.1" r="3.3"/>
<path class="gl" d="M662.1 794.5L655.0 787.4"/>
<path class="gl" d="M655.5 794.3L661.9 787.9"/>
<circle class="g" cx="695.6" cy="738.0" r="4.3"/>
<circle class="gf" cx="695.6" cy="738.0" r="2.7"/>
<circle class="g" cx="747.6" cy="790.0" r="4.3"/>
<circle class="gf" cx="747.6" cy="790.0" r="2.7"/>
<circle class="g" cx="728.6" cy="861.0" r="4.3"/>
<circle class="gf" cx="728.6" cy="861.0" r="2.7"/>
<circle class="g" cx="657.6" cy="880.0" r="4.3"/>
<circle class="gf" cx="657.6" cy="880.0" r="2.7"/>
<circle class="g" cx="605.6" cy="828.0" r="4.3"/>
<circle class="gf" cx="605.6" cy="828.0" r="2.7"/>
<circle class="g" cx="624.6" cy="757.0" r="4.3"/>
<circle class="gf" cx="624.6" cy="757.0" r="2.7"/>
<rect class="g" x="813.6" y="797.4" width="29.4" height="6.6"/>
<rect class="g" x="843.0" y="799.0" width="8.4" height="3.6"/>
<rect class="g" x="813.6" y="814.4" width="29.4" height="6.6"/>
<rect class="g" x="843.0" y="816.0" width="8.4" height="3.6"/>
<rect class="g" x="813.6" y="805.4" width="56.1" height="7.0"/>
<path class="gl" d="M813.6 804.7L843.0 804.7"/>
<path class="gl" d="M813.6 813.6L843.0 813.6"/>
<rect class="g" x="869.7" y="805.0" width="5.8" height="8.0"/>
<rect class="g" x="876.5" y="805.4" width="5.8" height="7.2"/>
<rect class="g" x="885.8" y="769.6" width="13.0" height="22.8"/>
<path class="g" d="M885.8 775.0L898.8 775.0"/>
<path class="g" d="M885.8 785.0L898.8 785.0"/>
<path class="g" d="M888.5 776.5V784M890.5 776.5V784M892 776.5V784M894 776.5V784M895.5 776.5V784M897.3 776.5V784"/>
<path class="g" d="M887.5 792.4V798Q887.5 806.0 881.5 806.2"/>
<path class="gl" d="M889.8 792.4V798Q889.8 807.2 883.0 807.5"/>
<path class="g" d="M892.2 792.4V798Q892.2 808.4 884.6 808.8"/>
<path class="gl" d="M894.6 792.4V798Q894.6 809.6 886.2 810.1"/>
<path class="g" d="M897 792.4V798Q897 810.8 887.8 811.4"/>
<path class="g" d="M882.3 806.5Q890 806.5 894 804.5L899 803.5H908.2M884 812Q892 813 896 811.5L901 813.5H908.2M897 808.5H908.2M899 806H908.2M899 811H908.2"/>
<rect class="g" x="908.2" y="802.4" width="23.5" height="13.3"/>
<path class="g" d="M916.2 802.4L916.2 815.7"/>
<path class="gl" d="M918 805H928M918 808.5H928M918 812H928M921 804.5V814M924.5 804.5V814"/>
</g>
<g id="dims">
<path class="k" d="M633.5 29.2L633.5 129.7"/>
<path class="k" d="M720.5 29.2L720.5 129.5"/>
<path class="k" d="M633.2 39.5L720.1 39.5"/>
<path class="kt" d="M629.0 43.9L637.5 35.4"/>
<path class="kt" d="M715.9 43.9L724.4 35.4"/>
<text class="t" x="667.2" y="35.6" font-size="15" textLength="14.8" lengthAdjust="spacingAndGlyphs">53</text>
<path class="k2" d="M511.3 126.5L676.7 126.5"/>
<path class="k2" d="M539.7 129.5L633.8 129.5"/>
<path class="k2" d="M539.7 169.5L635.0 169.5"/>
<path class="k2" d="M511.3 172.5L676.7 172.5"/>
<path class="k" d="M521.5 69.8L521.5 176.8"/>
<path class="k" d="M549.5 80.5L549.5 173.6"/>
<path class="kf" d="M521.0 126.3L518.7 117.8L523.3 117.8Z"/>
<path class="kf" d="M549.5 129.6L547.2 121.1L551.8 121.1Z"/>
<path class="kt" d="M516.8 130.5L525.2 122.1"/>
<path class="kt" d="M516.8 176.8L525.2 168.4"/>
<path class="kt" d="M545.3 133.8L553.7 125.4"/>
<path class="kt" d="M545.3 173.4L553.7 165.0"/>
<text class="t" x="517.8" y="106.6" font-size="15" textLength="36.6" lengthAdjust="spacingAndGlyphs" transform="rotate(-90 517.8 106.6)">28.40</text>
<text class="t" x="546.3" y="96.6" font-size="15" textLength="15.0" lengthAdjust="spacingAndGlyphs" transform="rotate(-90 546.3 96.6)">24</text>
<path class="k" d="M634.2 168.8L579.5 233.5L491.7 233.5"/>
<path class="kf" d="M634.2 168.8L630.5 176.8L626.9 173.8Z"/>
<text class="t" x="495.3" y="229.3" font-size="15" textLength="58.7" lengthAdjust="spacingAndGlyphs">6-M3-6H</text>
<path class="k" d="M204.0 507.0L298.0 567.5L371.8 567.5"/>
<path class="kf" d="M262.2 544.4L270.6 547.0L268.1 550.9Z"/>
<text class="t" x="326.8" y="562.8" font-size="15" textLength="44.3" lengthAdjust="spacingAndGlyphs">Φ40.10</text>
<path class="k" d="M569.5 320.8L569.5 397.6"/>
<path class="k" d="M783.5 320.8L783.5 397.6"/>
<path class="k" d="M569.8 330.5L783.6 330.5"/>
<path class="kt" d="M565.6 334.7L574.0 326.3"/>
<path class="kt" d="M779.4 334.7L787.8 326.3"/>
<text class="t" x="652.7" y="326.7" font-size="15" textLength="44.4" lengthAdjust="spacingAndGlyphs">Φ130.4</text>
<path class="k" d="M591.5 340.8L591.5 396.5"/>
<path class="k" d="M761.5 340.8L761.5 396.0"/>
<path class="k" d="M591.5 350.5L761.6 350.5"/>
<path class="kt" d="M587.3 354.9L595.7 346.6"/>
<path class="kt" d="M757.4 354.9L765.8 346.6"/>
<text class="t" x="661.0" y="347.5" font-size="15" textLength="32.3" lengthAdjust="spacingAndGlyphs">Φ104</text>
<path class="k" d="M665.5 357.4L665.5 374.0"/>
<path class="k" d="M687.5 357.4L687.5 374.0"/>
<path class="k" d="M665.0 367.5L740.3 367.5"/>
<path class="kt" d="M660.8 371.9L669.2 363.5"/>
<path class="kt" d="M683.7 371.9L692.1 363.5"/>
<path class="kf" d="M688.2 367.7L696.7 365.4L696.7 370.0Z"/>
<text class="t" x="716.2" y="364.5" font-size="15" textLength="23.8" lengthAdjust="spacingAndGlyphs">Φ14</text>
<path class="k" d="M492.5 373.5L896.4 373.5L920.5 359.5L942.3 359.5"/>
<path class="k" d="M709.6 377.5L942.3 377.5"/>
<path class="k" d="M809.5 434.5L942.3 434.5"/>
<path class="k" d="M812.4 454.5L942.3 454.5"/>
<path class="k" d="M614.8 524.5L940.8 524.5"/>
<path class="k" d="M492.0 586.5L649.7 586.5"/>
<path class="k" d="M703.7 586.5L942.3 586.5"/>
<path class="k" d="M501.5 373.5L501.5 586.2"/>
<path class="kt" d="M497.6 377.7L506.0 369.3"/>
<path class="kt" d="M497.6 590.4L506.0 582.0"/>
<path class="kv" d="M940.5 359.1L940.5 586.2"/>
<path class="kt" d="M936.8 363.1L944.8 355.1"/>
<path class="kt" d="M936.8 381.4L944.8 373.4"/>
<path class="kt" d="M936.8 438.3L944.8 430.3"/>
<path class="kt" d="M936.8 458.3L944.8 450.3"/>
<path class="kt" d="M936.8 590.2L944.8 582.2"/>
<path class="kf" d="M940.8 521.8L943.8 524.8L940.8 527.8L937.8 524.8Z"/>
<text class="t" x="498.6" y="501.5" font-size="15" textLength="43.3" lengthAdjust="spacingAndGlyphs" transform="rotate(-90 498.6 501.5)">129.90</text>
<text class="t" x="948.7" y="364.1" font-size="15" textLength="36.1" lengthAdjust="spacingAndGlyphs">92.40</text>
<text class="t" x="948.7" y="382.5" font-size="15" textLength="16.2" lengthAdjust="spacingAndGlyphs">90</text>
<text class="t" x="948.7" y="439.0" font-size="15" textLength="32.8" lengthAdjust="spacingAndGlyphs">55.16</text>
<text class="t" x="948.7" y="458.4" font-size="15" textLength="32.8" lengthAdjust="spacingAndGlyphs">43.10</text>
<text class="t" x="948.7" y="529.9" font-size="15" textLength="7.0" lengthAdjust="spacingAndGlyphs">0</text>
<text class="t" x="948.7" y="591.0" font-size="15" textLength="34.5" lengthAdjust="spacingAndGlyphs">37.50</text>
<path class="k" d="M568.5 548.1L568.5 642.2"/>
<path class="k" d="M813.5 488.2L813.5 642.2"/>
<path class="k" d="M568.3 632.5L813.5 632.5"/>
<path class="kt" d="M564.1 636.8L572.5 628.4"/>
<path class="kt" d="M809.3 636.8L817.7 628.4"/>
<text class="t" x="668.6" y="647.1" font-size="15" textLength="43.7" lengthAdjust="spacingAndGlyphs">149.60</text>
<path class="k" d="M661.5 524.8L661.5 616.6"/>
<path class="k" d="M691.5 524.8L691.5 616.6"/>
<path class="k" d="M750.5 561.4L750.5 616.6"/>
<path class="k" d="M661.8 606.5L750.5 606.5"/>
<path class="kt" d="M657.6 610.8L666.0 602.4"/>
<path class="kt" d="M687.1 610.8L695.5 602.4"/>
<path class="kt" d="M746.3 610.8L754.7 602.4"/>
<text class="t" x="670.6" y="602.7" font-size="15" textLength="13.6" lengthAdjust="spacingAndGlyphs">18</text>
<text class="t" x="708.1" y="602.7" font-size="15" textLength="15.8" lengthAdjust="spacingAndGlyphs">36</text>
<path class="k" d="M661.6 527.0L639.8 606.5L575.5 606.5"/>
<path class="kf" d="M661.8 526.6L661.8 535.4L657.3 534.2Z"/>
<text class="t" x="576.2" y="603.9" font-size="15" textLength="36.0" lengthAdjust="spacingAndGlyphs">Φ4.10</text>
<path class="k" d="M490.0 731.5L541.5 731.5L698.7 821.8"/>
<path class="kf" d="M653.4 795.6L644.9 793.3L647.2 789.4Z"/>
<text class="t" x="490.3" y="727.2" font-size="15" textLength="22.9" lengthAdjust="spacingAndGlyphs">Φ31</text>
<path class="k" d="M472.0 764.5L559.8 764.5L648.8 807.3"/>
<path class="kf" d="M648.8 807.3L640.1 805.7L642.1 801.5Z"/>
<text class="t" x="473.0" y="760.0" font-size="15" textLength="58.9" lengthAdjust="spacingAndGlyphs">4-M4-6H</text>
<path class="k" d="M568.5 833.3L568.5 937.6"/>
<path class="k" d="M676.5 809.0L676.5 937.6"/>
<path class="k" d="M813.5 844.0L813.5 937.6"/>
<path class="k" d="M568.4 928.5L813.5 928.5"/>
<path class="kt" d="M564.2 932.2L572.6 923.8"/>
<path class="kt" d="M672.4 932.2L680.8 923.8"/>
<path class="kt" d="M809.3 932.2L817.7 923.8"/>
<text class="t" x="614.1" y="924.0" font-size="15" textLength="16.4" lengthAdjust="spacingAndGlyphs">66</text>
<text class="t" x="725.3" y="924.0" font-size="15" textLength="36.9" lengthAdjust="spacingAndGlyphs">83.60</text>
<path class="k" d="M822.2 822.5L836.5 940.9"/>
<path class="kf" d="M822.2 822.0L825.5 830.2L820.9 830.7Z"/>
<path class="k" d="M836.5 798.0L836.5 940.5L1101.2 940.5"/>
<path class="kf" d="M836.7 797.6L839.0 806.1L834.4 806.1Z"/>
<path class="k" d="M867.5 816.0L867.5 901.5L1105.3 901.5"/>
<path class="kf" d="M867.2 815.6L869.5 824.1L864.9 824.1Z"/>
<path class="kd" d="M888.5 764.5L888.5 729.5L944.5 729.5"/>
<path class="kd" d="M894.5 764.5L894.5 743.5L944.5 743.5"/>
<path class="kd" d="M901.5 764.5L901.5 756.5L944.5 756.5"/>
<path class="kd" d="M937.7 801.5L979.5 801.5L979.5 818.5L1023.0 818.5"/>
<path class="kd" d="M937.7 808.5L973.5 808.5L973.5 831.5L1023.0 831.5"/>
<path class="kd" d="M937.7 814.5L966.5 814.5L966.5 843.5L1023.0 843.5"/>
<text class="t" x="913.7" y="711.7" font-size="14" textLength="65.2" lengthAdjust="spacingAndGlyphs">JR-3P公头</text>
<text class="t" x="950.6" y="730.2" font-size="14" textLength="41.1" lengthAdjust="spacingAndGlyphs">绿(CL)</text>
<text class="t" x="950.6" y="746.9" font-size="14" textLength="44.1" lengthAdjust="spacingAndGlyphs">灰(CH)</text>
<text class="t" x="950.6" y="764.3" font-size="14" textLength="34.1" lengthAdjust="spacingAndGlyphs">黄(G)</text>
<text class="t" x="1025.5" y="819.2" font-size="14" textLength="29.9" lengthAdjust="spacingAndGlyphs">白(S)</text>
<text class="t" x="1025.5" y="835.8" font-size="14" textLength="13.5" lengthAdjust="spacingAndGlyphs">空</text>
<text class="t" x="1025.5" y="852.0" font-size="14" textLength="31.5" lengthAdjust="spacingAndGlyphs">黑(G)</text>
<text class="t" x="987.2" y="870.8" font-size="14" textLength="69.0" lengthAdjust="spacingAndGlyphs">JR–3P公头</text>
<text class="t" x="876.6" y="879.2" font-size="14" textLength="62.4" lengthAdjust="spacingAndGlyphs">5芯屏蔽线</text>
<text class="t" x="876.6" y="897.5" font-size="14" textLength="198.8" lengthAdjust="spacingAndGlyphs">外露长度1090±10mm(不含JR头)</text>
<text class="t" x="875.8" y="918.3" font-size="14" textLength="215.4" lengthAdjust="spacingAndGlyphs">电源线(12AWG；红色为正极，黑色</text>
<text class="t" x="875.8" y="936.9" font-size="14" textLength="190.8" lengthAdjust="spacingAndGlyphs">为负极；外露长度1000±10mm)</text>
</g>
</svg>
</body></html>
